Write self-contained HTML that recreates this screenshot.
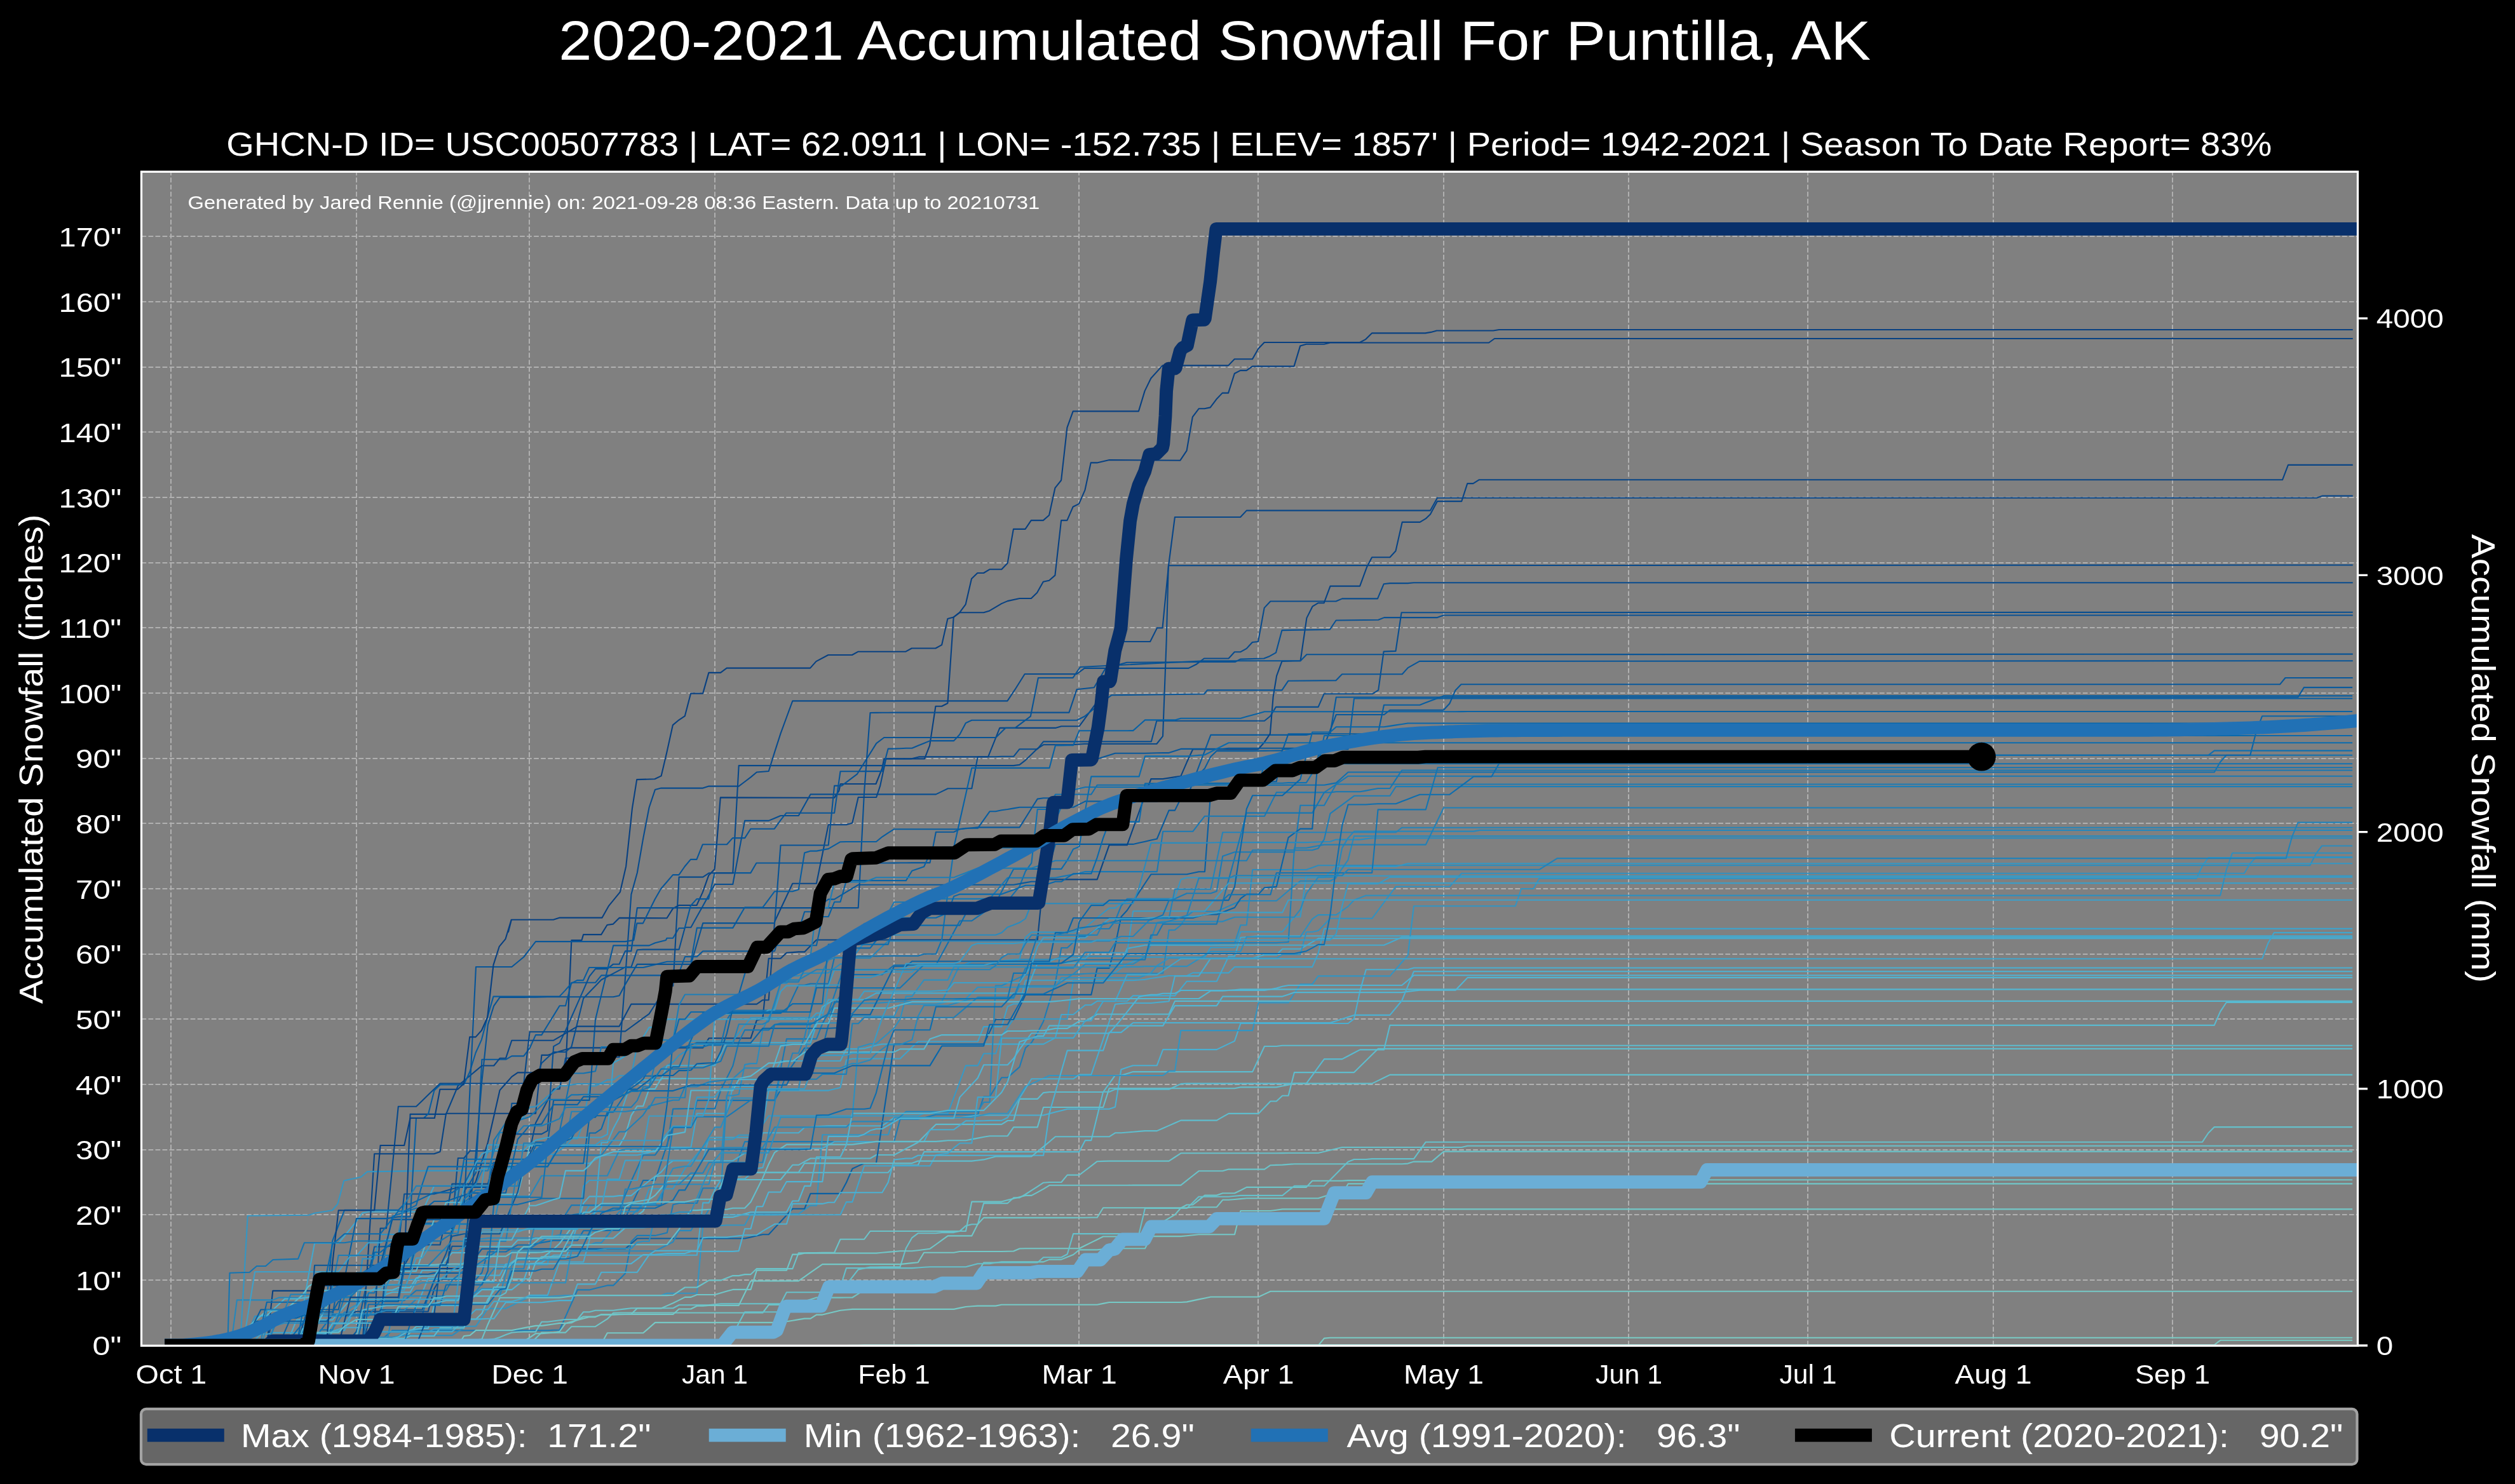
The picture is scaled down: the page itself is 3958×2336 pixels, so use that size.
<!DOCTYPE html>
<html><head><meta charset="utf-8"><title>2020-2021 Accumulated Snowfall For Puntilla, AK</title>
<style>
html,body{margin:0;padding:0;background:#000;}
body{width:3958px;height:2336px;overflow:hidden;}
svg{display:block;will-change:transform;}
text{font-family:"Liberation Sans",sans-serif;fill:#fff;white-space:pre;}
.g{stroke:#b0b0b0;stroke-width:2;stroke-dasharray:7.7 3.33;fill:none;}
.t{fill:none;stroke-width:2.1;stroke-linejoin:round;stroke-linecap:square;}
.k{fill:none;stroke-width:20.8;stroke-linejoin:round;stroke-linecap:square;}
</style></head><body>
<svg width="3958" height="2336" viewBox="0 0 3958 2336">
<rect width="3958" height="2336" fill="#000"/>
<defs><clipPath id="ax"><rect x="222.5" y="270.3" width="3488.0" height="1848.0000000000002"/></clipPath></defs>
<rect x="222.5" y="270.3" width="3488.0" height="1848.0000000000002" fill="#808080"/>
<path class="g" d="M269 2118.3V270.3M561 2118.3V270.3M833 2118.3V270.3M1125 2118.3V270.3M1407 2118.3V270.3M1698 2118.3V270.3M1980 2118.3V270.3M2272 2118.3V270.3M2563 2118.3V270.3M2845 2118.3V270.3M3137 2118.3V270.3M3419 2118.3V270.3M222.5 2015H3710.5M222.5 1912H3710.5M222.5 1810H3710.5M222.5 1707H3710.5M222.5 1604H3710.5M222.5 1502H3710.5M222.5 1399H3710.5M222.5 1296H3710.5M222.5 1194H3710.5M222.5 1091H3710.5M222.5 988H3710.5M222.5 886H3710.5M222.5 783H3710.5M222.5 680H3710.5M222.5 578H3710.5M222.5 475H3710.5M222.5 372H3710.5"/>
<g clip-path="url(#ax)">
<path class="t" stroke="#1070b0" d="M269.5 2118.0L485.7 2118.0L495.1 2106.3L504.5 2094.6L513.9 2082.1L523.3 2069.6L664.4 2069.6L673.8 2041.7L683.2 2013.8L749.0 2013.8L758.4 2003.2L767.8 1970.5L796.0 1970.5L805.4 1965.1L814.8 1959.7L833.6 1959.7L843.0 1957.9L852.4 1956.1L861.8 1954.4L871.2 1952.6L908.8 1952.6L918.2 1937.3L946.4 1937.3L955.8 1937.0L965.2 1936.8L974.6 1936.6L984.0 1917.6L993.4 1897.7L1002.8 1877.9L1012.2 1858.0L1031.0 1858.0L1040.4 1829.8L1049.8 1801.5L1059.2 1773.2L1087.4 1773.2L1096.8 1732.1L1219.1 1732.1L1228.5 1715.6L1237.9 1690.0L1247.3 1676.6L1256.7 1663.2L1266.1 1649.7L1294.3 1649.7L1303.7 1613.4L1313.1 1577.1L1322.5 1577.1L1331.9 1534.1L1388.3 1534.1L1397.7 1526.7L1407.1 1519.2L1472.9 1519.2L1482.3 1501.8L1491.7 1484.4L1501.1 1466.9L1510.5 1449.5L1529.3 1449.5L1538.7 1442.9L1548.1 1436.3L1557.5 1429.9L1576.3 1429.9L1585.7 1418.4L1595.1 1406.9L1604.5 1395.4L1613.9 1371.3L1623.3 1358.7L1632.7 1274.0L1651.5 1274.0L1660.9 1250.5L1717.3 1250.5L1726.7 1235.8L2084.0 1235.8L2093.4 1234.1L2102.8 1232.4L2112.2 1224.0L2121.6 1215.5L3484.8 1215.5L3494.2 1199.5L3503.7 1188.8L3701.1 1188.8"/>
<path class="t" stroke="#084b8d" d="M269.5 2118.0L391.7 2118.0L419.9 2118.0L429.3 2071.5L542.1 2071.5L551.5 2068.0L560.9 2064.5L673.8 2064.5L683.2 2029.0L692.6 2012.9L702.0 2012.9L711.4 1931.9L720.8 1823.0L730.2 1823.0L739.6 1811.6L833.6 1811.6L843.0 1767.7L852.4 1749.9L861.8 1732.0L871.2 1714.2L880.6 1714.2L890.0 1665.6L946.4 1665.6L955.8 1664.8L965.2 1664.0L974.6 1664.0L984.0 1538.8L993.4 1407.9L1002.8 1374.0L1012.2 1319.6L1021.6 1271.0L1031.0 1242.9L1040.4 1240.6L1106.2 1240.6L1115.6 1237.6L1162.7 1237.6L1172.1 1230.5L1181.5 1223.4L1190.9 1215.5L1200.3 1214.7L1209.7 1214.0L1219.1 1183.9L1228.5 1154.6L1237.9 1129.0L1247.3 1103.4L1585.4 1103.4L1597.5 1085.2L1612.7 1061.0L1694.6 1061.0L1706.7 1051.9L1870.5 1051.9L1882.6 1045.8L1895.0 1036.5L1900.0 1036.5L1933.5 1036.5L1942.9 1026.3L1952.0 1026.3L1961.8 1020.9L1970.9 1011.0L1980.0 1010.0L1989.7 956.9L1999.4 946.5L2102.5 946.5L2112.2 942.4L2168.0 942.4L2177.7 919.3L2187.4 918.1L2215.3 918.1L2225.0 917.2L3701.7 917.2"/>
<path class="t" stroke="#1b7bb6" d="M269.5 2118.0L589.2 2118.0L598.6 2110.1L608.0 2102.3L617.4 2094.4L861.8 2094.4L871.2 2093.7L880.6 2093.7L890.0 2072.6L899.4 2051.5L908.8 2030.4L927.6 2030.4L937.0 2028.0L946.4 2025.7L955.8 2023.4L965.2 2023.4L974.6 2013.9L984.0 2004.4L993.4 1954.4L1002.8 1944.9L1031.0 1944.9L1040.4 1942.8L1049.8 1940.6L1059.2 1896.2L1068.6 1894.0L1096.8 1894.0L1106.2 1870.3L1134.4 1870.3L1143.8 1865.2L1153.3 1865.1L1162.7 1822.1L1172.1 1797.1L1407.1 1797.1L1416.5 1761.7L1444.7 1761.7L1454.1 1759.4L1463.5 1757.1L1472.9 1754.8L1538.7 1754.8L1548.1 1726.2L1557.5 1726.2L1566.9 1711.2L1576.3 1696.2L1585.7 1696.2L1595.1 1687.9L1604.5 1679.6L1613.9 1649.5L1623.3 1641.2L1632.7 1625.8L1642.1 1607.8L1651.5 1577.2L1660.9 1546.6L1670.3 1492.0L1679.7 1492.0L1689.1 1483.1L1698.5 1474.1L1707.9 1474.1L1717.3 1468.1L1726.7 1462.0L1745.6 1462.0L1755.0 1449.6L1764.4 1426.0L1773.8 1414.8L1849.0 1414.8L1858.4 1410.5L1867.8 1406.2L1905.4 1406.2L1914.8 1402.9L1924.2 1347.8L1933.6 1344.5L1943.0 1341.2L2037.0 1341.2L2046.4 1267.7L2084.0 1267.7L2093.4 1251.1L2102.8 1234.5L3701.1 1234.5"/>
<path class="t" stroke="#084182" d="M269.5 2118.0L391.7 2118.0L419.9 2118.0L429.3 2031.9L495.1 2031.9L504.5 2019.2L551.5 2019.2L560.9 2011.8L570.4 2004.4L579.8 1997.0L730.2 1997.0L739.6 1876.5L749.0 1859.4L758.4 1828.9L767.8 1798.3L777.2 1757.2L786.6 1716.1L796.0 1705.5L805.4 1694.9L814.8 1688.4L890.0 1688.4L899.4 1480.0L915.5 1480.0L918.1 1471.1L946.2 1471.1L955.5 1456.0L965.0 1454.6L974.5 1444.9L1049.5 1445.3L1059.0 1430.1L1068.5 1425.0L1096.4 1425.0L1105.9 1404.4L1115.2 1378.1L1124.7 1368.0L1133.8 1255.4L1313.0 1255.8L1320.3 1244.9L1322.7 1234.0L1378.5 1234.0L1388.2 1209.7L1391.3 1194.4L1455.0 1194.4L1463.1 1173.7L1472.4 1111.8L1482.1 1111.8L1491.4 1107.0L1500.7 971.5L1510.0 964.3L1548.0 964.3L1557.3 961.4L1576.3 950.1L1585.6 946.1L1604.6 942.0L1622.8 942.0L1632.1 933.1L1641.8 915.7L1651.1 913.7L1660.4 905.6L1670.1 819.1L1679.4 819.1L1688.7 797.7L1698.0 793.1L1707.5 771.3L1716.7 728.4L1726.4 728.4L1745.8 724.0L1857.4 724.7L1867.6 709.4L1876.8 656.4L1886.6 643.3L1895.5 643.3L1904.7 641.4L1914.5 628.3L1923.7 618.6L1933.1 618.6L1942.8 588.0L1952.1 583.1L1961.8 583.1L1971.0 576.6L2036.5 576.6L2046.2 544.6L2055.7 541.7L2083.8 541.7L2093.3 539.5L2343.0 539.5L2352.0 533.0L3701.7 533.0"/>
<path class="t" stroke="#4aafd1" d="M269.5 2118.0L448.1 2118.0L457.5 2100.2L466.9 2077.6L523.3 2077.6L532.7 2066.9L542.1 2056.3L551.5 2045.6L598.6 2045.6L608.0 2037.3L617.4 2034.2L645.6 2034.2L655.0 2016.9L664.4 1999.7L720.8 1999.7L730.2 1993.7L796.0 1993.7L805.4 1987.0L814.8 1980.3L890.0 1980.3L899.4 1958.7L908.8 1926.4L918.2 1894.1L927.6 1883.4L965.2 1883.4L974.6 1882.1L993.4 1882.1L1002.8 1874.3L1012.2 1866.5L1021.6 1858.8L1031.0 1851.9L1040.4 1845.1L1049.8 1834.0L1059.2 1827.2L1153.3 1827.2L1162.7 1821.2L1172.1 1815.2L1190.9 1815.2L1200.3 1783.3L1256.7 1783.3L1266.1 1774.7L1275.5 1774.1L1284.9 1773.4L1294.3 1772.8L1303.7 1772.2L1388.3 1772.2L1397.7 1765.8L1407.1 1759.4L1510.5 1759.4L1519.9 1758.1L1529.3 1756.8L1538.7 1755.5L1642.1 1755.5L1651.5 1753.1L1660.9 1750.6L1670.3 1748.2L1679.7 1745.8L1745.6 1745.8L1755.0 1742.6L1764.4 1683.5L1773.8 1680.3L1783.2 1677.2L1820.8 1677.2L1830.2 1652.1L1914.8 1652.1L1924.2 1647.6L1933.6 1643.1L1943.0 1638.7L1952.4 1611.0L2121.6 1611.0L2131.0 1603.7L2140.4 1559.6L2149.8 1526.3L2215.6 1526.3L2225.0 1523.5L3701.1 1523.5"/>
<path class="t" stroke="#3fa2ca" d="M269.5 2118.0L391.7 2118.0L401.1 2109.1L410.5 2100.2L419.9 2100.2L429.3 2097.9L504.5 2097.9L513.9 2097.0L523.3 2096.0L532.7 2095.1L542.1 2094.2L551.5 2074.3L560.9 2054.5L570.4 2045.3L579.8 2036.1L589.2 2028.2L598.6 2028.2L608.0 2022.1L626.8 2022.1L636.2 1993.0L720.8 1993.0L730.2 1987.6L739.6 1982.2L767.8 1982.2L777.2 1975.5L786.6 1951.5L796.0 1927.5L908.8 1927.5L918.2 1921.1L927.6 1914.7L937.0 1908.3L946.4 1901.9L955.8 1856.2L974.6 1856.2L984.0 1826.6L1106.2 1826.6L1115.6 1790.5L1181.5 1790.5L1190.9 1780.4L1200.3 1770.3L1209.7 1716.6L1303.7 1716.6L1313.1 1714.3L1322.5 1711.9L1331.9 1668.8L1341.3 1666.5L1416.5 1666.5L1425.9 1657.5L1435.3 1648.5L1444.7 1639.5L1538.7 1639.5L1548.1 1616.1L1576.3 1616.1L1585.7 1584.4L1595.1 1580.2L1604.5 1580.2L1613.9 1543.3L1698.5 1543.3L1707.9 1543.2L1717.3 1543.1L1783.2 1543.1L1792.6 1542.5L1802.0 1541.9L1811.4 1540.0L1820.8 1538.7L1830.2 1537.4L1839.6 1536.0L1867.8 1536.0L1877.2 1531.4L1933.6 1531.4L1943.0 1522.1L2065.2 1522.1L2074.6 1500.5L2084.0 1461.9L3701.1 1461.9"/>
<path class="t" stroke="#3699c5" d="M269.5 2118.0L457.5 2118.0L466.9 2104.6L476.3 2091.2L485.7 2077.8L495.1 2064.4L504.5 2064.4L513.9 2052.7L523.3 2026.0L532.7 2014.3L692.6 2014.3L702.0 2006.6L711.4 1999.0L720.8 1993.8L730.2 1992.8L739.6 1991.7L749.0 1990.7L861.8 1990.7L871.2 1928.9L908.8 1928.9L918.2 1913.2L927.6 1897.4L1012.2 1897.4L1021.6 1871.2L1059.2 1871.2L1068.6 1855.3L1078.0 1839.4L1087.4 1828.1L1096.8 1816.8L1106.2 1805.5L1115.6 1794.2L1134.4 1794.2L1143.8 1793.8L1153.3 1793.3L1162.7 1786.8L1172.1 1786.7L1181.5 1786.6L1190.9 1778.4L1200.3 1770.2L1209.7 1756.5L1444.7 1756.5L1454.1 1752.7L1491.7 1752.7L1501.1 1727.6L1510.5 1702.5L1519.9 1677.4L1538.7 1677.4L1548.1 1658.5L1566.9 1658.5L1576.3 1630.9L1585.7 1617.4L1595.1 1604.0L1679.7 1604.0L1689.1 1543.7L1736.1 1543.7L1745.6 1537.1L1755.0 1530.5L1764.4 1524.0L1773.8 1517.4L1783.2 1513.8L1792.6 1510.2L1802.0 1506.6L1896.0 1506.6L1905.4 1491.4L1943.0 1491.4L1952.4 1466.7L2018.2 1466.7L2027.6 1455.0L2037.0 1443.3L2046.4 1443.3L2055.8 1378.8L3701.1 1378.8"/>
<path class="t" stroke="#5dbbce" d="M269.5 2118.0L419.9 2118.0L429.3 2106.7L636.2 2106.7L645.6 2097.3L655.0 2088.0L711.4 2088.0L720.8 2082.3L730.2 2076.5L749.0 2076.5L758.4 2067.5L767.8 2045.1L777.2 2031.9L786.6 2018.6L796.0 1998.3L805.4 1989.1L814.8 1981.1L852.4 1981.1L861.8 1973.7L871.2 1966.2L880.6 1957.5L890.0 1945.0L899.4 1932.5L927.6 1932.5L937.0 1922.9L946.4 1913.3L1002.8 1913.3L1012.2 1906.3L1021.6 1888.1L1031.0 1881.7L1040.4 1870.8L1049.8 1860.0L1059.2 1859.1L1068.6 1858.2L1143.8 1858.2L1153.3 1857.0L1228.5 1857.0L1237.9 1845.4L1247.3 1833.8L1256.7 1833.8L1266.1 1828.7L1275.5 1823.5L1369.5 1823.5L1378.9 1818.0L1407.1 1818.0L1416.5 1813.1L1425.9 1808.1L1435.3 1803.2L1444.7 1798.3L1454.1 1788.8L1463.5 1779.3L1472.9 1769.9L1576.3 1769.9L1585.7 1764.0L1595.1 1764.0L1604.5 1729.9L1632.7 1729.9L1642.1 1720.1L1651.5 1719.0L1736.1 1719.0L1745.6 1705.9L1755.0 1692.7L1764.4 1692.7L1773.8 1689.9L1783.2 1687.1L1971.2 1687.1L1980.6 1667.0L1990.0 1647.0L2008.8 1647.0L2018.2 1645.7L3701.1 1645.7"/>
<path class="t" stroke="#6ec5c8" d="M269.5 2118.0L814.8 2118.0L824.2 2116.9L833.6 2115.7L843.0 2106.7L852.4 2097.6L890.0 2097.6L899.4 2088.2L937.0 2088.2L946.4 2082.2L955.8 2076.2L965.2 2066.7L974.6 2066.5L1200.3 2066.5L1209.7 2054.0L1247.3 2054.0L1256.7 2051.1L1266.1 2048.3L1275.5 2045.5L1284.9 2042.6L1322.5 2042.6L1331.9 2042.5L1341.3 2042.5L1350.7 2036.7L1360.1 2030.8L1378.9 2030.8L1388.3 2027.7L1501.1 2027.7L1510.5 2022.8L1519.9 2022.8L1529.3 2020.8L1538.7 2003.1L1548.1 1987.5L1566.9 1987.5L1576.3 1986.4L1642.1 1986.4L1651.5 1982.6L1670.3 1982.6L1679.7 1978.8L1689.1 1975.0L1698.5 1967.4L1726.7 1967.4L1736.1 1966.3L1745.6 1965.3L1802.0 1965.3L1811.4 1947.1L1820.8 1928.8L1830.2 1923.2L1839.6 1917.7L1849.0 1912.1L1858.4 1901.5L1867.8 1896.5L1877.2 1896.5L1886.6 1889.1L1896.0 1881.6L1914.8 1881.6L1924.2 1878.3L1943.0 1878.3L1952.4 1873.8L1961.8 1868.9L2055.8 1868.9L2065.2 1858.8L2112.2 1858.8L2121.6 1858.1L2178.0 1858.1L2187.4 1857.2L3701.1 1857.2"/>
<path class="t" stroke="#43a7cd" d="M269.5 2118.0L466.9 2118.0L476.3 2062.4L485.7 2006.8L495.1 1957.0L532.7 1957.0L542.1 1945.5L551.5 1934.1L560.9 1922.7L570.4 1909.4L579.8 1907.5L664.4 1907.5L673.8 1887.2L683.2 1866.9L786.6 1866.9L796.0 1849.1L805.4 1831.2L927.6 1831.2L937.0 1825.4L946.4 1819.7L955.8 1818.3L1002.8 1818.3L1012.2 1816.4L1021.6 1814.4L1031.0 1810.3L1040.4 1806.1L1087.4 1806.1L1096.8 1752.8L1143.8 1752.8L1153.3 1709.7L1209.7 1709.7L1219.1 1689.9L1228.5 1670.0L1322.5 1670.0L1331.9 1651.1L1350.7 1651.1L1360.1 1650.4L1369.5 1647.9L1378.9 1645.4L1388.3 1643.6L1642.1 1643.6L1651.5 1638.6L1660.9 1633.6L1670.3 1597.0L1689.1 1597.0L1698.5 1589.5L1707.9 1582.0L1717.3 1582.0L1726.7 1575.9L1736.1 1575.8L1745.6 1575.8L1755.0 1575.8L1773.8 1575.8L1783.2 1567.4L1849.0 1567.4L1858.4 1556.1L1867.8 1544.7L1914.8 1544.7L1924.2 1525.1L1933.6 1505.4L1943.0 1505.4L1952.4 1475.9L1961.8 1475.0L1971.2 1474.1L1980.6 1473.2L3701.1 1473.2"/>
<path class="t" stroke="#085a9d" d="M269.5 2118.0L410.5 2118.0L419.9 2107.1L551.5 2107.1L560.9 2096.0L570.4 2051.5L579.8 2007.0L589.2 1962.5L598.6 1962.5L608.0 1962.1L617.4 1961.6L626.8 1961.2L636.2 1960.8L655.0 1960.8L664.4 1925.6L692.6 1925.6L702.0 1917.3L711.4 1909.0L720.8 1892.3L730.2 1875.6L739.6 1862.1L749.0 1845.8L758.4 1667.8L796.0 1667.8L805.4 1662.4L824.2 1662.4L833.6 1650.0L843.0 1629.1L852.4 1629.1L861.8 1613.8L871.2 1598.6L880.6 1583.3L890.0 1583.3L899.4 1546.8L937.0 1546.8L946.4 1535.4L1040.4 1535.4L1049.8 1531.5L1068.6 1531.5L1078.0 1506.0L1096.8 1506.0L1106.2 1497.2L1219.1 1497.2L1228.5 1465.6L1256.7 1465.6L1266.1 1435.3L1275.5 1435.3L1284.9 1428.8L1294.3 1422.2L1303.7 1415.6L1313.1 1415.6L1322.5 1409.9L1331.9 1404.2L1341.3 1398.5L1350.7 1392.8L1595.1 1392.8L1604.5 1391.1L1613.9 1389.4L1623.3 1387.7L1632.7 1387.7L1642.1 1374.7L1651.5 1361.6L1660.9 1328.9L1783.2 1328.9L1792.6 1326.8L1802.0 1324.7L1811.4 1322.6L1820.8 1320.5L1830.2 1298.1L1839.6 1275.6L1849.0 1275.6L1858.4 1256.6L1867.8 1256.6L1877.2 1231.7L1886.6 1206.7L1896.0 1181.8L1905.4 1156.9L2055.8 1156.9L2065.2 1155.0L2093.4 1155.0L2102.8 1097.5L3616.5 1097.5L3625.9 1082.1L3701.1 1082.1"/>
<path class="t" stroke="#3294c2" d="M269.5 2118.0L608.0 2118.0L617.4 2110.6L626.8 2103.1L636.2 2095.7L645.6 2095.7L655.0 2093.0L664.4 2090.4L673.8 2087.7L749.0 2087.7L758.4 2073.7L767.8 2059.7L796.0 2059.7L805.4 2055.1L814.8 2050.4L824.2 2045.8L833.6 2041.1L861.8 2041.1L871.2 2040.4L880.6 2039.7L890.0 2039.1L1040.4 2039.1L1049.8 2035.8L1096.8 2035.8L1106.2 1930.5L1115.6 1930.5L1125.0 1929.9L1134.4 1929.2L1143.8 1928.5L1172.1 1928.5L1181.5 1910.8L1256.7 1910.8L1266.1 1904.2L1275.5 1897.7L1284.9 1897.7L1294.3 1786.2L1397.7 1786.2L1407.1 1759.0L1529.3 1759.0L1538.7 1756.9L1548.1 1754.8L1557.5 1752.7L1585.7 1752.7L1595.1 1738.6L1604.5 1724.5L1613.9 1710.4L1623.3 1706.1L1632.7 1701.7L1642.1 1697.4L1651.5 1693.0L1830.2 1693.0L1839.6 1685.9L1849.0 1685.9L1858.4 1622.1L1971.2 1622.1L1980.6 1578.4L2027.6 1578.4L2037.0 1563.8L2046.4 1549.2L2065.2 1549.2L2074.6 1536.4L2187.4 1536.4L2196.8 1525.6L2206.2 1514.8L2215.6 1504.0L2225.0 1426.2L2384.9 1426.2L2394.3 1399.0L2413.1 1399.0L2422.5 1382.9L3456.6 1382.9L3466.0 1363.2L3475.4 1350.0L3701.1 1350.0"/>
<path class="t" stroke="#085fa3" d="M269.5 2118.0L391.7 2118.0L401.1 2079.8L513.9 2079.8L523.3 2070.0L532.7 2015.6L542.1 2005.7L673.8 2005.7L683.2 2003.9L730.2 2003.9L739.6 1991.2L749.0 1978.6L758.4 1965.9L984.0 1965.9L993.4 1957.7L1002.8 1949.5L1172.1 1949.5L1181.5 1947.4L1190.9 1945.3L1200.3 1943.2L1209.7 1943.2L1219.1 1933.1L1228.5 1923.0L1237.9 1912.9L1247.3 1902.8L1266.1 1902.8L1275.5 1878.9L1322.5 1878.9L1331.9 1861.6L1341.3 1839.8L1350.7 1835.4L1360.1 1831.1L1378.9 1831.1L1388.3 1768.5L1397.7 1706.0L1407.1 1643.5L1548.1 1643.5L1557.5 1624.1L1566.9 1604.8L1595.1 1604.8L1604.5 1585.3L1613.9 1565.9L1717.3 1565.9L1726.7 1524.0L1745.6 1524.0L1755.0 1488.7L1764.4 1443.2L1773.8 1433.0L1783.2 1418.8L1792.6 1404.7L1802.0 1390.5L1811.4 1376.3L1867.8 1376.3L1877.2 1374.3L1886.6 1372.2L1896.0 1372.2L1905.4 1246.6L1914.8 1246.6L1924.2 1244.7L1933.6 1242.8L1943.0 1240.9L1952.4 1238.2L1961.8 1235.6L1971.2 1232.9L1980.6 1230.3L2008.8 1230.3L2018.2 1179.4L2121.6 1179.4L2131.0 1099.5L3701.1 1099.5"/>
<path class="t" stroke="#2687bb" d="M269.5 2118.0L363.5 2118.0L372.9 2046.4L429.3 2046.4L438.7 2042.6L551.5 2042.6L560.9 2003.4L570.4 2003.4L579.8 1998.1L589.2 1992.8L645.6 1992.8L655.0 1927.3L777.2 1927.3L786.6 1883.1L833.6 1883.1L843.0 1866.9L852.4 1850.7L955.8 1850.7L965.2 1830.8L974.6 1811.0L984.0 1808.9L1049.8 1808.9L1059.2 1808.7L1068.6 1808.4L1078.0 1808.1L1087.4 1807.9L1115.6 1807.9L1125.0 1807.2L1134.4 1806.6L1200.3 1806.6L1209.7 1790.5L1219.1 1774.4L1266.1 1774.4L1275.5 1774.3L1284.9 1774.2L1294.3 1774.2L1331.9 1774.2L1341.3 1765.4L1407.1 1765.4L1416.5 1758.0L1425.9 1749.9L1538.7 1749.9L1548.1 1735.0L1557.5 1735.0L1566.9 1551.5L1576.3 1551.5L1585.7 1547.3L1595.1 1543.0L1604.5 1538.7L1613.9 1534.5L1679.7 1534.5L1689.1 1533.9L1698.5 1533.4L1707.9 1532.8L1717.3 1532.3L1820.8 1532.3L1830.2 1532.1L1839.6 1464.1L1849.0 1463.9L1858.4 1456.2L1867.8 1442.2L1877.2 1434.8L1914.8 1434.8L1924.2 1430.6L1933.6 1426.4L1943.0 1422.2L1952.4 1418.0L2008.8 1418.0L2018.2 1410.2L2027.6 1402.3L2037.0 1394.5L2046.4 1386.7L2093.4 1386.7L2102.8 1381.7L2112.2 1334.6L2121.6 1319.1L2131.0 1308.6L2319.0 1308.6L2328.5 1306.9L3701.1 1306.9"/>
<path class="t" stroke="#48accf" d="M269.5 2118.0L495.1 2118.0L504.5 2116.5L513.9 2112.1L523.3 2095.6L532.7 2092.6L542.1 2089.7L598.6 2089.7L608.0 2081.3L645.6 2081.3L655.0 2058.3L664.4 2035.3L673.8 2012.3L739.6 2012.3L749.0 2007.6L786.6 2007.6L796.0 1989.7L805.4 1989.7L814.8 1989.6L824.2 1989.5L833.6 1989.5L843.0 1988.5L852.4 1987.6L861.8 1981.3L871.2 1975.8L1096.8 1975.8L1106.2 1893.4L1115.6 1893.4L1125.0 1872.9L1134.4 1857.4L1143.8 1856.6L1153.3 1855.7L1172.1 1855.7L1181.5 1847.5L1190.9 1839.3L1200.3 1838.0L1209.7 1807.7L1294.3 1807.7L1303.7 1802.4L1313.1 1797.2L1454.1 1797.2L1463.5 1778.2L1501.1 1778.2L1510.5 1771.3L1519.9 1764.4L1538.7 1764.4L1548.1 1764.2L1557.5 1763.9L1576.3 1763.9L1585.7 1759.2L1595.1 1744.0L1604.5 1728.7L1613.9 1713.5L1623.3 1698.3L1689.1 1698.3L1698.5 1691.6L1717.3 1691.6L1726.7 1663.9L1736.1 1636.2L1745.6 1608.5L1755.0 1580.8L1764.4 1579.9L1773.8 1579.0L1811.4 1579.0L1820.8 1578.0L1830.2 1577.1L1839.6 1576.2L1849.0 1536.4L1886.6 1536.4L1896.0 1522.3L1905.4 1508.3L1971.2 1508.3L1980.6 1505.6L1990.0 1503.0L2008.8 1503.0L2018.2 1493.8L2046.4 1493.8L2055.8 1488.3L2065.2 1482.8L2074.6 1477.3L3701.1 1477.3"/>
<path class="t" stroke="#2b8cbe" d="M269.5 2118.0L495.1 2118.0L504.5 2115.3L513.9 2112.6L523.3 2109.9L560.9 2109.9L570.4 2104.8L617.4 2104.8L626.8 2103.5L636.2 2102.1L711.4 2102.1L720.8 2095.9L730.2 2089.7L739.6 2034.5L749.0 2034.5L758.4 2028.5L796.0 2028.5L805.4 1992.1L814.8 1983.1L880.6 1983.1L890.0 1959.8L927.6 1959.8L937.0 1956.4L946.4 1956.4L955.8 1945.3L965.2 1934.2L974.6 1923.1L984.0 1918.7L993.4 1914.3L1002.8 1904.2L1012.2 1894.1L1031.0 1894.1L1040.4 1885.1L1049.8 1856.8L1059.2 1839.2L1068.6 1837.4L1078.0 1835.7L1087.4 1835.7L1096.8 1820.3L1106.2 1805.0L1115.6 1789.7L1125.0 1774.4L1134.4 1774.4L1143.8 1751.5L1153.3 1728.5L1190.9 1728.5L1200.3 1721.8L1209.7 1715.2L1256.7 1715.2L1266.1 1662.7L1275.5 1610.3L1322.5 1610.3L1331.9 1594.7L1341.3 1579.1L1378.9 1579.1L1388.3 1578.4L1397.7 1577.8L1407.1 1577.2L1416.5 1576.5L1482.3 1576.5L1491.7 1557.4L1501.1 1538.2L1510.5 1519.0L1557.5 1519.0L1566.9 1513.2L1576.3 1513.2L1585.7 1512.3L1595.1 1511.3L1604.5 1510.4L1660.9 1510.4L1670.3 1505.4L1802.0 1505.4L1811.4 1485.7L1905.4 1485.7L1914.8 1485.2L1924.2 1484.8L1943.0 1484.8L1952.4 1456.2L1961.8 1456.2L1971.2 1369.0L1980.6 1369.0L1990.0 1369.0L2055.8 1369.0L2065.2 1365.7L2074.6 1362.3L3635.3 1362.3L3644.7 1343.9L3654.1 1331.5L3701.1 1331.5"/>
<path class="t" stroke="#1979b5" d="M269.5 2118.0L419.9 2118.0L429.3 2094.7L438.7 2071.5L579.8 2071.5L589.2 2059.4L598.6 2047.3L636.2 2047.3L645.6 2039.4L655.0 2031.4L702.0 2031.4L711.4 2015.4L720.8 2007.6L730.2 1999.7L739.6 1991.8L749.0 1991.8L758.4 1985.4L767.8 1978.9L777.2 1972.4L786.6 1966.0L796.0 1965.5L833.6 1965.5L843.0 1959.7L852.4 1954.0L861.8 1948.3L880.6 1948.3L890.0 1911.6L899.4 1897.1L1040.4 1897.1L1049.8 1836.0L1059.2 1775.0L1087.4 1775.0L1096.8 1757.9L1143.8 1757.9L1153.3 1751.3L1162.7 1744.7L1172.1 1738.1L1181.5 1731.6L1219.1 1731.6L1228.5 1683.5L1237.9 1635.4L1256.7 1635.4L1266.1 1635.4L1275.5 1635.4L1284.9 1635.4L1294.3 1611.4L1303.7 1593.5L1313.1 1566.3L1322.5 1539.1L1331.9 1498.3L1341.3 1484.8L1350.7 1469.3L1360.1 1453.9L1388.3 1453.9L1397.7 1436.9L1407.1 1420.0L1444.7 1420.0L1454.1 1414.9L1557.5 1414.9L1566.9 1403.8L1576.3 1392.8L1585.7 1381.7L1660.9 1381.7L1670.3 1379.9L1679.7 1378.1L1689.1 1376.3L1698.5 1374.5L1707.9 1372.1L1820.8 1372.1L1830.2 1308.8L1877.2 1308.8L1886.6 1296.7L1896.0 1284.7L1990.0 1284.7L1999.4 1266.1L2008.8 1247.4L2084.0 1247.4L2093.4 1241.0L2102.8 1234.6L2112.2 1228.1L2121.6 1221.7L3701.1 1221.7"/>
<path class="t" stroke="#084485" d="M269.5 2118.0L485.7 2118.0L551.5 2118.0L560.9 2117.8L570.4 2117.7L579.8 1967.0L589.2 1816.3L683.2 1816.3L692.6 1812.9L702.0 1752.8L843.0 1752.8L852.4 1660.9L861.8 1660.9L871.2 1658.0L880.6 1655.1L890.0 1652.2L899.4 1649.4L1106.2 1649.4L1115.6 1634.3L1181.5 1634.3L1190.9 1605.9L1200.3 1603.9L1209.7 1508.7L1228.5 1508.7L1237.9 1499.8L1247.3 1499.1L1256.7 1498.4L1266.1 1498.4L1275.5 1488.9L1284.9 1479.5L1632.7 1479.5L1642.1 1384.4L1726.7 1384.4L1736.1 1357.4L1745.6 1330.3L1773.8 1330.3L1783.2 1304.2L1792.6 1278.2L1802.0 1252.1L1811.4 1226.1L1830.2 1226.1L1839.6 1224.6L1849.0 1223.1L1858.4 1221.7L1867.8 1199.8L1877.2 1179.5L1900.0 1179.5L1980.0 1179.5L1989.1 1169.3L1998.9 1154.8L2003.7 1096.5L2009.1 1063.8L2017.5 1040.9L2046.6 1040.2L2056.4 972.9L2065.5 954.7L2074.6 949.2L2083.7 949.2L2093.5 922.6L2140.1 922.6L2151.0 892.8L2159.1 877.2L2187.4 877.2L2196.5 867.3L2206.7 821.9L2234.7 821.9L2243.8 816.4L2251.0 809.5L2262.0 789.1L2300.2 789.1L2309.3 761.1L2318.4 761.1L2327.5 755.3L3592.0 755.3L3601.0 731.9L3701.7 731.9"/>
<path class="t" stroke="#3496c3" d="M269.5 2118.0L363.5 2118.0L378.5 2107.6L389.8 1913.7L486.0 1912.8L496.0 1909.5L522.9 1905.2L531.4 1895.3L541.3 1858.5L568.1 1852.8L578.0 1844.4L672.9 1842.9L749.0 1842.9L758.4 1840.8L767.8 1838.7L824.2 1838.7L833.6 1834.4L843.0 1830.1L852.4 1830.1L861.8 1817.3L871.2 1817.3L880.6 1810.7L890.0 1804.2L899.4 1792.4L908.8 1792.4L918.2 1767.2L927.6 1709.5L937.0 1709.5L946.4 1704.7L955.8 1699.9L965.2 1699.9L974.6 1693.2L993.4 1693.2L1002.8 1645.3L1040.4 1645.3L1049.8 1641.8L1059.2 1638.7L1153.3 1638.7L1162.7 1626.4L1172.1 1614.1L1181.5 1601.8L1294.3 1601.8L1303.7 1550.5L1331.9 1550.5L1341.3 1538.8L1369.5 1538.8L1378.9 1535.8L1388.3 1532.9L1397.7 1530.0L1435.3 1530.0L1444.7 1521.5L1510.5 1521.5L1519.9 1517.5L1529.3 1513.6L1566.9 1513.6L1576.3 1512.6L1585.7 1511.6L1595.1 1510.6L1604.5 1509.7L1613.9 1475.3L1623.3 1467.4L1689.1 1467.4L1698.5 1463.7L1707.9 1460.0L1717.3 1452.3L1726.7 1444.7L1736.1 1437.0L1745.6 1429.4L1755.0 1429.4L1764.4 1421.8L1773.8 1418.8L1783.2 1415.7L1839.6 1415.7L1849.0 1412.7L1858.4 1384.5L1867.8 1381.5L2084.0 1381.5L2093.4 1372.8L2102.8 1364.0L2196.8 1364.0L2206.2 1361.7L2215.6 1359.3L2460.1 1359.3L3701.1 1359.3"/>
<path class="t" stroke="#68c1ca" d="M269.5 2118.0L504.5 2118.0L513.9 2111.0L589.2 2111.0L598.6 2110.8L655.0 2110.8L664.4 2108.8L767.8 2108.8L777.2 2107.9L786.6 2105.0L796.0 2101.0L805.4 2097.8L814.8 2096.7L824.2 2096.4L843.0 2096.4L852.4 2080.8L861.8 2080.8L871.2 2079.5L880.6 2078.2L890.0 2077.0L908.8 2077.0L918.2 2065.2L927.6 2065.2L937.0 2062.7L965.2 2062.7L974.6 2061.5L984.0 2060.4L993.4 2059.2L1059.2 2059.2L1068.6 2054.2L1115.6 2054.2L1125.0 2053.3L1134.4 2052.3L1228.5 2052.3L1237.9 2034.2L1322.5 2034.2L1331.9 2022.3L1341.3 2010.3L1350.7 1998.4L1360.1 1996.4L1369.5 1994.5L1378.9 1994.5L1388.3 1994.4L1416.5 1994.4L1425.9 1964.8L1435.3 1948.3L1444.7 1941.3L1472.9 1941.3L1482.3 1940.1L1501.1 1940.1L1510.5 1937.9L1519.9 1929.6L1529.3 1927.3L1538.7 1927.3L1548.1 1894.1L1585.7 1894.1L1595.1 1885.4L1604.5 1885.4L1613.9 1880.0L1623.3 1873.9L1632.7 1867.8L1642.1 1861.7L1651.5 1861.0L1670.3 1861.0L1679.7 1849.6L1698.5 1849.6L1707.9 1842.5L1717.3 1835.3L1726.7 1828.2L1736.1 1827.9L1745.6 1827.6L1839.6 1827.6L1849.0 1821.5L1858.4 1815.3L2008.8 1815.3L2018.2 1815.1L2027.6 1815.0L2074.6 1815.0L2084.0 1812.7L2093.4 1810.5L2102.8 1808.3L2112.2 1806.0L2300.2 1806.0L2309.6 1803.8L3701.1 1803.8"/>
<path class="t" stroke="#73c8c7" d="M269.5 2118.0L720.8 2118.0L730.2 2103.0L739.6 2102.0L749.0 2094.1L805.4 2094.1L814.8 2092.2L824.2 2090.4L833.6 2088.6L843.0 2086.9L852.4 2086.9L861.8 2085.6L871.2 2084.2L880.6 2082.9L890.0 2082.9L899.4 2080.4L908.8 2078.0L918.2 2075.6L927.6 2073.1L937.0 2073.1L946.4 2069.0L1059.2 2069.0L1068.6 2060.5L1087.4 2060.5L1096.8 2055.8L1106.2 2055.8L1115.6 2054.9L1162.7 2054.9L1172.1 2035.7L1181.5 2016.5L1190.9 2016.4L1256.7 2016.4L1266.1 2009.8L1275.5 2003.2L1284.9 1996.6L1294.3 1990.1L1416.5 1990.1L1425.9 1989.1L1435.3 1988.1L1444.7 1987.2L1454.1 1971.7L1501.1 1971.7L1510.5 1970.0L1576.3 1970.0L1585.7 1969.7L1595.1 1969.5L1604.5 1965.5L1613.9 1965.2L1698.5 1965.2L1707.9 1960.5L1717.3 1955.9L1726.7 1951.2L1736.1 1946.5L1792.6 1946.5L1802.0 1946.1L1858.4 1946.1L1867.8 1945.2L1877.2 1944.2L1886.6 1943.3L1943.0 1943.3L1952.4 1906.0L1999.4 1906.0L2008.8 1904.7L2018.2 1903.4L3701.1 1903.4"/>
<path class="t" stroke="#6bc3c9" d="M269.5 2118.0L655.0 2118.0L664.4 2116.0L673.8 2114.0L683.2 2111.9L692.6 2109.9L749.0 2109.9L758.4 2107.8L767.8 2084.7L777.2 2063.7L786.6 2042.7L880.6 2042.7L890.0 2041.5L899.4 2040.3L908.8 2039.1L1049.8 2039.1L1059.2 2038.8L1068.6 2032.7L1078.0 2026.5L1096.8 2026.5L1106.2 2021.0L1115.6 2015.4L1134.4 2015.4L1143.8 2011.8L1153.3 2008.1L1162.7 2008.1L1172.1 2006.1L1181.5 2006.1L1190.9 1997.1L1247.3 1997.1L1256.7 1972.4L1266.1 1972.2L1275.5 1972.1L1284.9 1972.0L1294.3 1971.8L1313.1 1971.8L1322.5 1950.7L1360.1 1950.7L1369.5 1938.0L1519.9 1938.0L1529.3 1891.6L1576.3 1891.6L1585.7 1889.1L1595.1 1886.7L1604.5 1884.3L1613.9 1881.9L1623.3 1881.9L1632.7 1876.8L1642.1 1871.6L1651.5 1865.8L1773.8 1865.8L1783.2 1865.6L1858.4 1865.6L1867.8 1858.2L1877.2 1850.7L1886.6 1843.3L1924.2 1843.3L1933.6 1840.6L1990.0 1840.6L1999.4 1834.2L2008.8 1833.9L2018.2 1833.6L2027.6 1832.9L2037.0 1832.2L2206.2 1832.2L2215.6 1831.6L2225.0 1828.6L2253.2 1828.6L2262.6 1820.6L2272.0 1812.6L3701.1 1812.6"/>
<path class="t" stroke="#3091c1" d="M269.5 2118.0L382.3 2118.0L391.7 2094.9L401.1 2071.9L542.1 2071.9L551.5 2058.9L560.9 2054.3L570.4 1981.4L589.2 1981.4L598.6 1943.1L636.2 1943.1L645.6 1937.3L655.0 1931.6L664.4 1925.8L673.8 1920.0L702.0 1920.0L711.4 1908.9L720.8 1869.2L730.2 1830.4L758.4 1830.4L767.8 1814.2L777.2 1809.1L786.6 1804.0L796.0 1785.5L805.4 1772.1L814.8 1765.6L824.2 1758.5L833.6 1742.7L843.0 1742.1L852.4 1733.9L861.8 1725.7L871.2 1717.5L880.6 1709.3L890.0 1709.3L899.4 1707.6L908.8 1706.0L955.8 1706.0L965.2 1705.5L1021.6 1705.5L1031.0 1694.1L1040.4 1682.8L1049.8 1677.4L1059.2 1672.0L1068.6 1661.1L1078.0 1655.5L1087.4 1649.9L1096.8 1644.3L1237.9 1644.3L1247.3 1644.2L1256.7 1644.0L1275.5 1644.0L1284.9 1599.8L1407.1 1599.8L1416.5 1580.6L1472.9 1580.6L1482.3 1578.7L1491.7 1576.7L1501.1 1574.8L1510.5 1572.9L1519.9 1572.2L1529.3 1563.1L1538.7 1554.0L1613.9 1554.0L1623.3 1553.8L1660.9 1553.8L1670.3 1539.1L1792.6 1539.1L1802.0 1535.3L1811.4 1531.4L1820.8 1520.2L1830.2 1514.2L1839.6 1508.3L2008.8 1508.3L2018.2 1502.4L2046.4 1502.4L2055.8 1467.0L2065.2 1467.0L2074.6 1464.9L2084.0 1455.4L2093.4 1445.8L2159.2 1445.8L2168.6 1433.2L2178.0 1420.6L2187.4 1408.1L2196.8 1395.5L2281.4 1395.5L2290.8 1385.1L2300.2 1374.7L3531.9 1374.7L3541.3 1359.3L3550.7 1349.0L3701.1 1349.0"/>
<path class="t" stroke="#65c0cb" d="M269.5 2118.0L1143.8 2118.0L1153.3 2100.4L1162.7 2082.8L1172.1 2065.3L1228.5 2065.3L1237.9 2063.7L1275.5 2063.7L1284.9 2049.4L1294.3 2035.0L1303.7 2030.6L1313.1 2026.1L1322.5 2026.1L1331.9 1996.1L1435.3 1996.1L1444.7 1995.5L1454.1 1994.8L1463.5 1994.2L1519.9 1994.2L1529.3 1991.7L1538.7 1989.3L1557.5 1989.3L1566.9 1987.5L1632.7 1987.5L1642.1 1979.3L1670.3 1979.3L1679.7 1974.3L1689.1 1942.1L1792.6 1942.1L1802.0 1902.0L1867.8 1902.0L1877.2 1892.9L1886.6 1883.7L1933.6 1883.7L1943.0 1882.8L1952.4 1881.9L2018.2 1881.9L2027.6 1874.3L2037.0 1866.8L2084.0 1866.8L2093.4 1857.3L2102.8 1847.8L2112.2 1838.3L2121.6 1828.8L2131.0 1825.0L2149.8 1825.0L2159.2 1824.1L2225.0 1824.1L2234.4 1810.9L2243.8 1797.7L3466.0 1797.7L3475.4 1783.5L3484.8 1774.1L3701.1 1774.1"/>
<path class="t" stroke="#46aace" d="M269.5 2118.0L570.4 2118.0L579.8 2096.2L711.4 2096.2L720.8 2087.5L730.2 2078.8L739.6 2070.1L749.0 2061.4L767.8 2061.4L777.2 2048.6L805.4 2048.6L814.8 2046.1L824.2 2043.6L833.6 2038.9L861.8 2038.9L871.2 2012.7L880.6 1986.5L918.2 1986.5L927.6 1952.2L937.0 1901.7L946.4 1798.5L955.8 1798.5L965.2 1776.4L974.6 1759.0L984.0 1731.5L993.4 1703.9L1002.8 1702.6L1012.2 1700.0L1040.4 1700.0L1049.8 1677.3L1125.0 1677.3L1134.4 1659.3L1143.8 1641.3L1275.5 1641.3L1284.9 1613.1L1294.3 1584.9L1303.7 1579.2L1313.1 1573.6L1360.1 1573.6L1369.5 1568.5L1378.9 1563.4L1613.9 1563.4L1623.3 1539.7L1632.7 1516.0L1764.4 1516.0L1773.8 1493.1L1783.2 1491.3L1792.6 1489.6L1802.0 1487.8L2178.0 1487.8L2187.4 1483.7L2196.8 1479.5L2206.2 1475.3L3701.1 1475.3"/>
<path class="t" stroke="#2a8bbe" d="M269.5 2118.0L410.5 2118.0L419.9 2090.7L429.3 2088.0L438.7 2085.3L448.1 2082.6L589.2 2082.6L598.6 2064.1L608.0 2025.0L617.4 2004.3L626.8 2004.3L636.2 1989.8L645.6 1989.8L655.0 1968.5L720.8 1968.5L730.2 1963.1L739.6 1957.7L749.0 1951.1L758.4 1950.0L767.8 1948.9L777.2 1948.7L833.6 1948.7L843.0 1948.6L852.4 1948.4L861.8 1948.2L871.2 1945.9L880.6 1943.7L927.6 1943.7L937.0 1920.9L946.4 1920.9L955.8 1920.1L965.2 1919.2L974.6 1907.2L1002.8 1907.2L1012.2 1896.0L1031.0 1896.0L1040.4 1880.2L1049.8 1864.3L1115.6 1864.3L1125.0 1829.5L1134.4 1829.5L1143.8 1724.6L1153.3 1724.6L1162.7 1722.8L1172.1 1675.9L1181.5 1674.1L1190.9 1674.1L1200.3 1620.9L1209.7 1601.7L1219.1 1582.5L1228.5 1547.8L1237.9 1547.8L1247.3 1536.1L1256.7 1536.1L1266.1 1531.9L1284.9 1531.9L1294.3 1531.6L1303.7 1531.2L1313.1 1524.4L1322.5 1517.5L1331.9 1517.5L1341.3 1507.9L1350.7 1495.9L1360.1 1483.8L1369.5 1471.8L1566.9 1471.8L1576.3 1468.2L1585.7 1459.4L1595.1 1455.9L1604.5 1452.3L1613.9 1446.0L1623.3 1422.2L1783.2 1422.2L1792.6 1397.5L1802.0 1362.2L1811.4 1326.9L1886.6 1326.9L1896.0 1326.7L1905.4 1326.5L1914.8 1326.3L1924.2 1326.1L2055.8 1326.1L2065.2 1325.8L2074.6 1325.4L2084.0 1325.0L2093.4 1324.7L2102.8 1321.6L2140.4 1321.6L2149.8 1320.4L2159.2 1319.2L3701.1 1319.2"/>
<path class="t" stroke="#085093" d="M269.5 2118.0L504.5 2118.0L570.4 2118.0L579.8 2081.9L598.6 2081.9L608.0 1991.8L617.4 1991.8L626.8 1964.0L636.2 1879.5L683.2 1879.5L692.6 1876.9L702.0 1874.2L711.4 1871.6L720.8 1868.9L777.2 1868.9L786.6 1865.0L796.0 1825.1L805.4 1785.1L852.4 1785.1L861.8 1779.9L871.2 1647.1L880.6 1641.9L890.0 1622.4L899.4 1601.0L908.8 1579.6L918.2 1558.3L927.6 1536.9L937.0 1525.1L955.8 1525.1L965.2 1517.7L974.6 1517.7L984.0 1497.1L993.4 1497.1L1002.8 1429.1L1350.7 1429.1L1360.1 1246.3L1369.5 1122.0L1378.9 1121.9L1388.3 1121.8L1397.7 1121.7L1407.1 1121.6L1473.2 1121.6L1682.4 1121.6L1694.6 1085.2L1721.8 1082.2L1740.0 1051.9L1773.4 1042.8L1895.0 1042.0L1900.0 1042.0L1943.7 1042.0L1952.0 1037.6L1989.1 1036.5L1998.2 1032.9L2008.0 1027.4L2017.5 992.1L2092.8 991.0L2102.6 976.5L2169.2 975.8L2178.3 972.1L2262.0 972.1L2271.8 968.5L3701.7 968.5"/>
<path class="t" stroke="#2889bc" d="M269.5 2118.0L608.0 2118.0L617.4 2066.3L626.8 2066.3L636.2 2040.1L786.6 2040.1L796.0 2004.6L805.4 1969.2L1031.0 1969.2L1040.4 1964.5L1049.8 1959.8L1059.2 1955.0L1068.6 1937.1L1087.4 1937.1L1096.8 1920.3L1106.2 1920.3L1115.6 1903.8L1125.0 1903.8L1134.4 1879.1L1143.8 1725.6L1153.3 1698.0L1162.7 1689.6L1172.1 1681.3L1322.5 1681.3L1331.9 1677.6L1341.3 1674.0L1350.7 1674.0L1360.1 1671.2L1369.5 1668.5L1378.9 1658.6L1388.3 1651.5L1397.7 1644.4L1416.5 1644.4L1425.9 1640.7L1435.3 1636.9L1444.7 1600.1L1454.1 1582.8L1491.7 1582.8L1501.1 1580.0L1510.5 1577.3L1519.9 1574.5L1529.3 1571.8L1595.1 1571.8L1604.5 1551.8L1660.9 1551.8L1670.3 1545.6L1679.7 1539.4L1689.1 1533.2L1698.5 1525.5L1707.9 1517.7L1783.2 1517.7L1792.6 1511.9L1802.0 1506.0L1811.4 1479.1L1820.8 1452.3L1830.2 1450.6L1924.2 1450.6L1933.6 1447.1L1943.0 1443.7L2037.0 1443.7L2046.4 1431.7L2055.8 1406.7L2065.2 1393.7L2074.6 1380.7L2102.8 1380.7L2112.2 1367.1L2121.6 1353.6L2131.0 1316.1L3701.1 1316.1"/>
<path class="t" stroke="#70c6c8" d="M269.5 2118.0L814.8 2118.0L824.2 2111.7L833.6 2105.5L843.0 2099.2L852.4 2099.2L861.8 2098.5L871.2 2097.7L880.6 2096.0L890.0 2083.1L899.4 2082.2L908.8 2077.4L918.2 2072.5L937.0 2072.5L946.4 2069.6L965.2 2069.6L974.6 2069.3L984.0 2069.0L993.4 2068.6L1002.8 2059.5L1040.4 2059.5L1049.8 2055.4L1059.2 2051.3L1068.6 2046.6L1078.0 2041.9L1087.4 2041.9L1096.8 2038.0L1125.0 2038.0L1134.4 2035.3L1143.8 2032.6L1153.3 2029.9L1181.5 2029.9L1190.9 1999.6L1237.9 1999.6L1247.3 1974.6L1256.7 1974.6L1266.1 1972.6L1378.9 1972.6L1388.3 1971.8L1397.7 1970.9L1407.1 1970.1L1416.5 1969.2L1435.3 1969.2L1444.7 1968.2L1454.1 1967.0L1463.5 1965.7L1472.9 1959.0L1482.3 1952.2L1491.7 1945.4L1529.3 1945.4L1538.7 1927.0L1548.1 1916.9L1689.1 1916.9L1698.5 1916.8L1707.9 1916.7L1717.3 1916.5L1726.7 1916.5L1736.1 1901.2L1867.8 1901.2L1877.2 1900.2L1914.8 1900.2L1924.2 1888.8L1933.6 1888.8L1943.0 1888.0L1952.4 1887.1L1961.8 1886.3L2074.6 1886.3L2084.0 1883.3L2093.4 1880.3L2112.2 1880.3L2121.6 1863.4L3701.1 1863.4"/>
<path class="t" stroke="#084e90" d="M269.5 2118.0L448.1 2118.0L466.9 2118.0L476.3 2086.6L485.7 2055.2L495.1 2023.8L560.9 2023.8L570.4 2018.5L579.8 2013.3L589.2 2008.1L626.8 2008.1L636.2 1991.9L645.6 1975.7L655.0 1959.5L692.6 1959.5L702.0 1915.5L711.4 1863.6L767.8 1863.6L777.2 1830.1L796.0 1830.1L805.4 1736.9L824.2 1736.9L833.6 1718.7L843.0 1700.5L852.4 1673.5L861.8 1664.8L871.2 1656.0L890.0 1656.0L899.4 1647.7L908.8 1609.6L918.2 1571.5L927.6 1561.8L937.0 1552.0L946.4 1542.3L955.8 1537.3L965.2 1532.4L974.6 1527.4L984.0 1522.4L993.4 1522.4L1002.8 1495.3L1012.2 1494.6L1068.6 1494.6L1078.0 1459.8L1087.4 1459.8L1096.8 1442.8L1106.2 1425.9L1115.6 1408.9L1125.0 1392.0L1153.3 1392.0L1162.7 1341.9L1172.1 1291.9L1209.7 1291.9L1219.1 1288.0L1228.5 1284.0L1256.7 1284.0L1266.1 1267.2L1275.5 1250.4L1472.9 1250.4L1482.3 1245.9L1491.7 1241.3L1529.3 1241.3L1538.7 1191.2L1566.9 1191.2L1576.3 1190.8L1595.1 1190.8L1604.5 1179.2L1632.7 1179.2L1642.1 1167.4L1811.8 1167.4L1820.3 1134.7L1989.9 1134.7L1999.0 1127.5L2008.0 1112.9L2074.6 1112.9L2083.7 1092.2L2160.1 1092.2L2169.2 1086.4L2177.6 1025.6L2196.5 1024.9L2205.6 964.2L3701.7 963.8"/>
<path class="t" stroke="#1677b3" d="M269.5 2118.0L495.1 2118.0L504.5 2093.4L523.3 2093.4L532.7 2070.2L542.1 2041.5L551.5 2041.5L560.9 2032.3L570.4 2023.1L579.8 2013.8L589.2 2004.6L626.8 2004.6L636.2 1992.5L645.6 1950.8L655.0 1938.7L664.4 1926.5L843.0 1926.5L852.4 1924.0L861.8 1921.4L871.2 1918.9L880.6 1918.9L890.0 1912.6L899.4 1912.6L908.8 1911.1L918.2 1909.7L927.6 1908.3L937.0 1906.8L955.8 1906.8L965.2 1905.2L974.6 1903.6L984.0 1881.4L993.4 1859.2L1002.8 1838.7L1012.2 1818.2L1031.0 1818.2L1040.4 1805.0L1049.8 1805.0L1059.2 1745.5L1068.6 1745.4L1078.0 1745.2L1087.4 1745.1L1125.0 1745.1L1134.4 1715.9L1143.8 1696.9L1153.3 1677.9L1162.7 1640.4L1172.1 1621.4L1209.7 1621.4L1219.1 1612.9L1228.5 1610.7L1294.3 1610.7L1303.7 1595.5L1313.1 1580.3L1322.5 1567.7L1331.9 1555.1L1416.5 1555.1L1425.9 1545.9L1435.3 1536.8L1444.7 1527.7L1454.1 1518.5L1510.5 1518.5L1519.9 1518.2L1529.3 1517.9L1660.9 1517.9L1670.3 1516.1L1679.7 1514.3L1689.1 1512.5L1698.5 1510.7L1802.0 1510.7L1811.4 1471.8L1820.8 1471.8L1830.2 1454.6L1914.8 1454.6L1924.2 1419.9L1933.6 1385.1L1943.0 1350.4L1952.4 1315.0L1961.8 1279.6L2065.2 1279.6L2074.6 1263.6L2084.0 1247.5L2093.4 1247.5L2102.8 1246.3L2140.4 1246.3L2149.8 1244.6L2159.2 1242.8L2168.6 1241.0L2187.4 1241.0L2196.8 1226.7L2206.2 1212.5L3701.1 1212.5"/>
<path class="t" stroke="#1272b1" d="M269.5 2118.0L560.9 2118.0L570.4 2076.6L579.8 2035.2L589.2 2035.2L598.6 2007.8L608.0 1961.2L617.4 1914.6L626.8 1911.4L636.2 1908.2L645.6 1905.0L655.0 1901.8L720.8 1901.8L730.2 1893.3L739.6 1884.8L852.4 1884.8L861.8 1804.1L871.2 1804.1L880.6 1781.1L890.0 1735.1L899.4 1689.5L918.2 1689.5L927.6 1687.9L937.0 1686.3L946.4 1648.1L1106.2 1648.1L1115.6 1645.2L1134.4 1645.2L1143.8 1605.4L1153.3 1590.6L1237.9 1590.6L1247.3 1570.6L1256.7 1550.7L1266.1 1550.7L1275.5 1548.5L1303.7 1548.5L1313.1 1507.4L1331.9 1507.4L1341.3 1506.4L1350.7 1505.3L1378.9 1505.3L1388.3 1505.0L1397.7 1504.8L1444.7 1504.8L1454.1 1501.8L1472.9 1501.8L1482.3 1478.8L1491.7 1405.0L1501.1 1338.1L1510.5 1334.5L1632.7 1334.5L1642.1 1324.3L1651.5 1314.2L1660.9 1292.1L1670.3 1269.9L1679.7 1245.6L1689.1 1243.4L1698.5 1241.2L1707.9 1239.0L1849.0 1239.0L1858.4 1237.5L1867.8 1235.9L1877.2 1234.3L1886.6 1232.7L2018.2 1232.7L2027.6 1232.1L2055.8 1232.1L2065.2 1217.1L2074.6 1202.2L3701.1 1202.2"/>
<path class="t" stroke="#7accc4" d="M269.5 2118.0L1331.9 2118.0L1341.3 2117.9L1350.7 2117.7L1360.1 2117.4L1369.5 2117.3L1435.3 2117.3L1444.7 2117.0L3484.8 2117.0L3494.2 2109.8L3701.1 2109.8"/>
<path class="t" stroke="#5abacf" d="M269.5 2118.0L570.4 2118.0L579.8 2112.5L589.2 2107.0L636.2 2107.0L645.6 2103.0L683.2 2103.0L692.6 2090.4L730.2 2090.4L739.6 2050.9L767.8 2050.9L777.2 2026.0L796.0 2026.0L805.4 2013.3L833.6 2013.3L843.0 1987.0L852.4 1978.3L880.6 1978.3L890.0 1960.1L899.4 1942.9L908.8 1925.6L918.2 1908.4L927.6 1908.4L937.0 1901.4L946.4 1894.5L984.0 1894.5L993.4 1892.9L1002.8 1891.3L1012.2 1889.7L1021.6 1888.2L1031.0 1852.0L1040.4 1850.7L1162.7 1850.7L1172.1 1849.1L1181.5 1847.4L1190.9 1845.8L1275.5 1845.8L1284.9 1845.8L1294.3 1845.8L1303.7 1845.8L1313.1 1845.7L1397.7 1845.7L1407.1 1834.4L1444.7 1834.4L1454.1 1813.1L1698.5 1813.1L1707.9 1795.1L1717.3 1795.1L1726.7 1757.0L1736.1 1718.8L1745.6 1718.8L1755.0 1714.8L1839.6 1714.8L1849.0 1710.5L1858.4 1706.1L1867.8 1705.6L2055.8 1705.6L2065.2 1692.8L2074.6 1679.9L2084.0 1667.1L2112.2 1667.1L2121.6 1662.2L2131.0 1657.3L2140.4 1652.4L2178.0 1652.4L2187.4 1613.9L3484.8 1613.9L3494.2 1592.3L3503.7 1578.0L3701.1 1578.0"/>
<path class="t" stroke="#57b8d0" d="M269.5 2118.0L466.9 2118.0L476.3 2091.7L495.1 2091.7L504.5 2074.7L513.9 2057.6L523.3 2040.6L542.1 2040.6L551.5 2030.7L560.9 2020.8L570.4 2010.9L579.8 2001.0L655.0 2001.0L664.4 1973.9L673.8 1946.7L683.2 1919.5L692.6 1919.5L702.0 1892.7L767.8 1892.7L777.2 1879.9L814.8 1879.9L824.2 1843.0L833.6 1803.7L974.6 1803.7L984.0 1787.2L993.4 1755.9L1002.8 1741.2L1012.2 1741.2L1021.6 1714.1L1031.0 1714.1L1040.4 1697.7L1162.7 1697.7L1172.1 1695.8L1181.5 1693.9L1190.9 1687.1L1200.3 1680.3L1209.7 1673.4L1219.1 1673.4L1228.5 1672.0L1237.9 1670.5L1247.3 1670.5L1256.7 1663.4L1266.1 1656.4L1350.7 1656.4L1360.1 1656.1L1407.1 1656.1L1416.5 1651.4L1454.1 1651.4L1463.5 1635.6L1472.9 1632.3L1482.3 1629.1L1576.3 1629.1L1585.7 1623.0L1613.9 1623.0L1623.3 1622.2L1642.1 1622.2L1651.5 1620.6L1660.9 1618.9L1679.7 1618.9L1689.1 1613.2L1698.5 1607.5L1707.9 1607.5L1717.3 1602.0L1726.7 1596.5L1839.6 1596.5L1849.0 1575.9L3701.1 1575.9"/>
<path class="t" stroke="#3b9dc7" d="M269.5 2118.0L504.5 2118.0L513.9 2114.9L589.2 2114.9L598.6 2072.9L608.0 2030.9L636.2 2030.9L645.6 2005.7L655.0 1980.4L664.4 1980.3L673.8 1965.5L683.2 1950.7L692.6 1936.0L824.2 1936.0L833.6 1935.0L908.8 1935.0L918.2 1867.1L927.6 1858.0L1002.8 1858.0L1012.2 1807.4L1021.6 1756.8L1106.2 1756.8L1115.6 1730.4L1125.0 1596.5L1134.4 1596.3L1143.8 1596.0L1153.3 1595.8L1200.3 1595.8L1209.7 1589.8L1219.1 1589.8L1228.5 1560.7L1237.9 1551.6L1303.7 1551.6L1313.1 1527.0L1407.1 1527.0L1416.5 1525.2L1425.9 1523.3L1435.3 1521.5L1444.7 1519.6L1548.1 1519.6L1557.5 1517.1L1566.9 1514.5L1604.5 1514.5L1613.9 1514.3L1623.3 1514.1L1632.7 1513.9L1642.1 1513.8L1651.5 1513.8L1660.9 1509.2L1707.9 1509.2L1717.3 1499.7L1773.8 1499.7L1783.2 1434.3L1896.0 1434.3L1905.4 1423.3L1914.8 1412.2L1924.2 1401.1L1933.6 1390.1L3701.1 1390.1"/>
<path class="t" stroke="#08589b" d="M269.5 2118.0L457.5 2118.0L579.8 2118.0L589.2 2089.9L598.6 2061.8L664.4 2061.8L673.8 2039.1L683.2 2016.4L692.6 1993.7L702.0 1973.2L711.4 1946.0L720.8 1944.1L730.2 1942.2L786.6 1942.2L796.0 1920.3L805.4 1898.4L814.8 1876.4L824.2 1835.7L833.6 1816.8L843.0 1798.0L861.8 1798.0L871.2 1731.9L927.6 1731.9L937.0 1605.0L946.4 1566.1L955.8 1527.3L965.2 1488.4L1021.6 1488.4L1031.0 1484.2L1047.9 1480.0L1049.5 1476.8L1059.0 1476.8L1068.5 1461.0L1077.6 1461.0L1086.9 1425.7L1096.4 1415.1L1115.2 1415.1L1124.7 1374.1L1181.3 1374.1L1190.4 1358.5L1280.0 1358.5L1397.7 1358.5L1407.1 1358.4L1416.5 1358.3L1425.9 1358.2L1435.3 1358.1L1463.5 1358.1L1472.9 1309.8L1501.1 1309.8L1510.5 1305.1L1519.9 1304.2L1529.3 1303.3L1538.7 1302.4L1604.5 1302.4L1613.9 1287.5L1623.3 1272.5L1632.7 1257.6L1642.1 1256.3L1670.3 1256.3L1679.7 1232.4L1689.1 1208.5L1698.5 1203.2L1707.9 1197.9L1717.3 1197.9L1726.7 1194.8L1736.1 1191.8L1745.6 1188.7L1755.0 1185.7L1802.0 1185.7L1811.4 1185.5L1820.8 1185.3L1830.2 1185.1L1839.6 1185.1L1849.0 1182.0L1858.4 1178.9L1924.2 1178.9L1933.6 1177.8L2046.4 1177.8L2055.8 1176.9L2065.2 1176.1L2074.6 1175.2L2084.0 1174.0L2093.4 1149.5L2102.8 1125.0L2178.3 1125.0L2187.4 1117.7L2271.8 1117.7L2281.3 1107.5L2290.4 1086.7L2299.5 1077.3L3588.0 1077.3L3596.5 1067.0L3701.7 1067.0"/>
<path class="t" stroke="#62becc" d="M269.5 2118.0L372.9 2118.0L382.3 2102.8L391.7 2087.6L401.1 2079.5L410.5 2071.3L419.9 2063.2L448.1 2063.2L457.5 2054.9L466.9 2046.5L476.3 2038.1L485.7 2024.7L495.1 2019.6L551.5 2019.6L560.9 2018.9L570.4 2018.1L608.0 2018.1L617.4 2004.6L626.8 1991.1L673.8 1991.1L683.2 1990.8L692.6 1990.4L702.0 1990.1L711.4 1989.7L739.6 1989.7L749.0 1977.6L796.0 1977.6L805.4 1971.6L843.0 1971.6L852.4 1971.3L861.8 1969.8L890.0 1969.8L899.4 1959.9L918.2 1959.9L927.6 1959.2L1040.4 1959.2L1049.8 1959.0L1059.2 1947.1L1068.6 1935.2L1078.0 1916.9L1087.4 1905.1L1096.8 1905.1L1106.2 1904.4L1115.6 1903.7L1143.8 1903.7L1153.3 1901.7L1172.1 1901.7L1181.5 1892.0L1190.9 1873.2L1200.3 1854.4L1209.7 1832.5L1219.1 1814.1L1228.5 1807.9L1237.9 1801.6L1341.3 1801.6L1350.7 1800.4L1360.1 1799.3L1369.5 1798.1L1378.9 1796.9L1472.9 1796.9L1482.3 1796.1L1491.7 1795.3L1510.5 1795.3L1519.9 1795.2L1529.3 1793.4L1538.7 1791.6L1548.1 1789.8L1557.5 1788.2L1585.7 1788.2L1595.1 1774.4L1632.7 1774.4L1642.1 1743.0L1736.1 1743.0L1745.6 1713.2L1943.0 1713.2L1952.4 1711.4L2008.8 1711.4L2018.2 1709.5L2027.6 1707.6L2037.0 1705.6L2159.2 1705.6L2168.6 1701.1L2178.0 1696.5L2187.4 1691.9L3701.1 1691.9"/>
<path class="t" stroke="#08498a" d="M269.5 2118.0L466.9 2118.0L504.5 2118.0L513.9 2109.7L523.3 2109.7L532.7 2102.0L579.8 2102.0L589.2 2083.1L598.6 1933.5L608.0 1933.5L617.4 1837.7L626.8 1741.8L655.0 1741.8L664.4 1732.7L673.8 1723.6L683.2 1714.5L692.6 1705.5L824.2 1705.5L833.6 1624.3L880.6 1624.3L890.0 1623.8L899.4 1623.4L984.0 1623.4L993.4 1616.5L1002.8 1609.6L1012.2 1602.7L1021.6 1595.9L1031.0 1581.2L1040.4 1566.6L1049.8 1552.0L1059.2 1552.0L1068.6 1380.6L1106.2 1380.6L1115.6 1374.3L1153.3 1374.3L1162.7 1205.1L1595.1 1205.1L1604.5 1203.9L1613.9 1196.6L1623.3 1187.5L1632.7 1178.3L1642.1 1172.3L1688.0 1172.3L1706.2 1171.0L1820.3 1171.0L1830.0 1158.9L1835.6 1010.0L1838.8 890.2L3701.7 889.5"/>
<path class="t" stroke="#1f80b8" d="M269.5 2118.0L504.5 2118.0L513.9 2104.9L523.3 2091.7L532.7 2078.6L542.1 2065.5L551.5 2065.5L560.9 2059.9L570.4 2018.8L589.2 2018.8L598.6 1992.4L673.8 1992.4L683.2 1982.7L692.6 1973.0L702.0 1963.4L711.4 1953.7L796.0 1953.7L805.4 1895.1L814.8 1836.4L861.8 1836.4L871.2 1818.4L946.4 1818.4L955.8 1806.1L965.2 1793.8L974.6 1781.5L984.0 1781.5L993.4 1772.7L1002.8 1763.9L1012.2 1755.2L1021.6 1740.9L1031.0 1738.7L1040.4 1736.4L1049.8 1734.1L1059.2 1731.8L1068.6 1731.8L1078.0 1710.5L1096.8 1710.5L1106.2 1706.9L1115.6 1703.3L1125.0 1702.1L1134.4 1701.0L1143.8 1699.9L1153.3 1698.7L1284.9 1698.7L1294.3 1690.9L1331.9 1690.9L1341.3 1611.2L1350.7 1611.2L1360.1 1601.8L1501.1 1601.8L1510.5 1593.9L1519.9 1585.9L1529.3 1577.9L1538.7 1569.9L1595.1 1569.9L1604.5 1546.9L1613.9 1523.8L1689.1 1523.8L1698.5 1511.4L1707.9 1499.0L1745.6 1499.0L1755.0 1484.1L2008.8 1484.1L2018.2 1483.5L2027.6 1482.9L2037.0 1334.8L2055.8 1334.8L2065.2 1333.1L2074.6 1331.3L2084.0 1329.6L2243.8 1329.6L2253.2 1310.2L2262.6 1290.9L2272.0 1271.5L3701.1 1271.5"/>
<path class="t" stroke="#0864a8" d="M269.5 2118.0L438.7 2118.0L448.1 2096.3L457.5 2074.6L466.9 2074.6L476.3 2070.9L485.7 2067.2L504.5 2067.2L513.9 2049.4L523.3 1953.2L532.7 1929.0L542.1 1904.9L626.8 1904.9L636.2 1895.3L645.6 1895.3L655.0 1890.9L664.4 1886.4L673.8 1881.9L683.2 1877.4L711.4 1877.4L720.8 1871.1L730.2 1864.8L739.6 1846.6L749.0 1831.3L918.2 1831.3L927.6 1758.6L937.0 1758.6L946.4 1743.8L955.8 1721.0L965.2 1713.0L993.4 1713.0L1002.8 1706.4L1012.2 1698.7L1021.6 1680.8L1031.0 1669.4L1040.4 1658.1L1049.8 1647.9L1078.0 1647.9L1087.4 1644.7L1096.8 1641.6L1181.5 1641.6L1190.9 1630.1L1200.3 1618.7L1303.7 1618.7L1313.1 1618.2L1322.5 1617.7L1331.9 1617.7L1341.3 1597.2L1369.5 1597.2L1378.9 1578.2L1388.3 1559.2L1397.7 1540.2L1407.1 1521.3L1425.9 1521.3L1435.3 1513.3L1510.5 1513.3L1519.9 1513.3L1529.3 1513.3L1538.7 1513.2L1548.1 1513.2L1651.5 1513.2L1660.9 1468.3L1679.7 1468.3L1689.1 1445.0L1877.2 1445.0L1886.6 1442.2L1896.0 1439.5L1914.8 1439.5L1924.2 1435.9L1933.6 1432.3L1943.0 1428.8L1952.4 1414.4L1961.8 1407.6L1980.6 1407.6L1990.0 1397.3L1999.4 1396.6L2008.8 1395.9L2018.2 1357.1L2027.6 1318.3L2037.0 1311.5L2046.4 1304.6L2065.2 1304.6L2074.6 1188.8L3541.3 1188.8L3550.7 1151.9L3560.1 1127.2L3701.1 1127.2"/>
<path class="t" stroke="#51b5d2" d="M269.5 2118.0L354.1 2118.0L363.5 2112.7L372.9 2107.3L382.3 2102.0L391.7 2088.1L401.1 2079.5L410.5 2070.9L419.9 2070.9L429.3 2062.1L438.7 2053.3L448.1 2044.5L466.9 2044.5L476.3 2043.3L485.7 2042.1L495.1 2036.2L504.5 2031.4L523.3 2031.4L532.7 2031.1L542.1 2030.7L617.4 2030.7L626.8 2026.9L645.6 2026.9L655.0 2011.8L664.4 2008.8L683.2 2008.8L692.6 1995.6L702.0 1982.5L711.4 1972.0L739.6 1972.0L749.0 1962.2L805.4 1962.2L814.8 1951.9L833.6 1951.9L843.0 1949.1L965.2 1949.1L974.6 1941.0L984.0 1932.6L993.4 1932.3L1002.8 1928.2L1012.2 1924.4L1021.6 1922.7L1087.4 1922.7L1096.8 1916.0L1153.3 1916.0L1162.7 1913.4L1172.1 1910.7L1181.5 1908.0L1237.9 1908.0L1247.3 1890.5L1256.7 1890.5L1266.1 1866.9L1275.5 1866.9L1284.9 1821.2L1322.5 1821.2L1331.9 1802.4L1341.3 1752.6L1463.5 1752.6L1472.9 1751.0L1482.3 1749.5L1491.7 1747.9L1548.1 1747.9L1557.5 1738.8L1566.9 1729.1L1576.3 1719.4L1585.7 1703.1L1595.1 1672.3L1604.5 1640.1L1613.9 1637.0L1623.3 1634.0L1632.7 1630.9L1642.1 1630.9L1651.5 1614.6L1830.2 1614.6L1839.6 1598.8L1849.0 1583.1L1914.8 1583.1L1924.2 1568.6L2018.2 1568.6L2027.6 1565.4L2037.0 1562.1L2206.2 1562.1L2215.6 1560.9L2225.0 1559.8L2234.4 1558.6L2290.8 1558.6L2300.2 1548.8L2309.6 1538.9L3701.1 1538.9"/>
<path class="t" stroke="#084688" d="M269.5 2118.0L476.3 2118.0L532.7 2118.0L542.1 2080.0L551.5 2042.1L626.8 2042.1L636.2 1990.6L645.6 1753.9L702.0 1753.9L711.4 1731.5L720.8 1709.1L730.2 1701.2L739.6 1693.3L749.0 1685.4L758.4 1677.5L777.2 1677.5L786.6 1665.8L796.0 1665.8L805.4 1637.7L871.2 1637.7L880.6 1632.2L890.0 1626.6L899.4 1621.1L908.8 1615.6L974.6 1615.6L984.0 1598.1L993.4 1580.6L1190.9 1580.6L1200.3 1574.2L1209.7 1574.2L1219.1 1450.8L1228.5 1430.8L1237.9 1410.8L1247.3 1390.8L1284.9 1390.8L1294.3 1344.5L1303.7 1298.2L1331.9 1298.2L1341.3 1295.6L1350.7 1255.0L1379.2 1255.0L1385.2 1236.9L1394.3 1194.4L1433.8 1194.4L1445.9 1191.4L1555.1 1191.4L1573.3 1145.9L1660.9 1145.9L1670.3 1143.2L1698.5 1143.2L1707.9 1130.3L1717.3 1117.4L1726.7 1104.6L1736.1 1104.6L1745.6 1057.3L1755.0 1010.0L1791.9 1010.0L1810.1 1010.0L1821.0 988.4L1829.5 988.4L1839.2 889.0L1848.9 814.0L1952.1 814.0L1961.8 803.6L2251.0 803.6L2262.0 783.7L3646.0 783.7L3655.0 780.6L3701.7 780.6"/>
<path class="t" stroke="#76c9c6" d="M269.5 2118.0L645.6 2118.0L655.0 2117.5L664.4 2117.0L673.8 2116.5L824.2 2116.5L833.6 2116.1L843.0 2115.8L852.4 2115.5L861.8 2115.2L946.4 2115.2L955.8 2098.3L1012.2 2098.3L1021.6 2090.1L1031.0 2081.9L1228.5 2081.9L1237.9 2080.3L1247.3 2078.7L1256.7 2077.1L1266.1 2075.6L1275.5 2075.6L1284.9 2069.6L1294.3 2069.6L1303.7 2067.3L1313.1 2065.0L1322.5 2062.7L1331.9 2061.8L1341.3 2060.9L1501.1 2060.9L1510.5 2058.9L1519.9 2057.0L1529.3 2056.3L1538.7 2055.6L1566.9 2055.6L1576.3 2053.8L1613.9 2053.8L1623.3 2053.8L1632.7 2053.8L1726.7 2053.8L1736.1 2051.9L1745.6 2050.0L1858.4 2050.0L1867.8 2049.4L1877.2 2047.4L1886.6 2045.4L1896.0 2043.5L1905.4 2041.5L1980.6 2041.5L1990.0 2037.1L1999.4 2032.8L3701.1 2032.8"/>
<path class="t" stroke="#4fb3d3" d="M269.5 2118.0L419.9 2118.0L429.3 2116.6L438.7 2115.1L579.8 2115.1L589.2 2109.1L608.0 2109.1L617.4 2106.8L626.8 2104.6L636.2 2099.2L645.6 2093.7L655.0 2092.4L664.4 2091.1L673.8 2091.1L683.2 2054.9L730.2 2054.9L739.6 2046.6L749.0 2038.4L758.4 2030.1L805.4 2030.1L814.8 2022.6L824.2 2015.2L833.6 1989.2L993.4 1989.2L1002.8 1982.1L1012.2 1975.0L1021.6 1975.0L1031.0 1974.9L1040.4 1974.0L1049.8 1973.1L1078.0 1973.1L1087.4 1969.9L1153.3 1969.9L1162.7 1969.1L1172.1 1934.2L1181.5 1934.2L1190.9 1899.2L1200.3 1899.2L1209.7 1876.5L1228.5 1876.5L1237.9 1860.1L1294.3 1860.1L1303.7 1788.9L1331.9 1788.9L1341.3 1788.8L1350.7 1788.7L1360.1 1785.4L1369.5 1779.6L1378.9 1777.0L1388.3 1777.0L1397.7 1771.5L1407.1 1766.0L1416.5 1760.6L1463.5 1760.6L1472.9 1760.5L1482.3 1760.4L1501.1 1760.4L1510.5 1727.1L1519.9 1717.1L1529.3 1707.1L1538.7 1697.0L1548.1 1676.2L1585.7 1676.2L1595.1 1666.3L1604.5 1651.9L1613.9 1639.2L1623.3 1626.5L1745.6 1626.5L1755.0 1615.6L1764.4 1604.6L1773.8 1592.8L1783.2 1581.0L1792.6 1569.2L1802.0 1567.1L1811.4 1565.7L1820.8 1565.7L1830.2 1563.7L1849.0 1563.7L1858.4 1559.0L1990.0 1559.0L1999.4 1557.3L2008.8 1555.5L2018.2 1552.8L2027.6 1551.0L2206.2 1551.0L2215.6 1543.2L2225.0 1535.3L3701.1 1535.3"/>
<path class="t" stroke="#085da0" d="M269.5 2118.0L354.1 2118.0L382.3 2118.0L391.7 2099.2L401.1 2080.3L410.5 2061.5L532.7 2061.5L542.1 2013.7L551.5 1965.9L560.9 1918.1L608.0 1918.1L617.4 1916.8L626.8 1915.4L645.6 1915.4L655.0 1760.0L666.9 1760.0L674.2 1753.0L683.4 1716.6L692.8 1707.4L730.0 1707.4L739.2 1687.5L748.6 1657.2L757.9 1636.6L767.1 1601.4L776.5 1568.6L880.4 1568.6L889.6 1558.9L899.1 1548.0L908.3 1543.1L918.0 1543.1L927.2 1523.0L1000.0 1523.0L1012.2 1523.0L1021.6 1520.7L1031.0 1518.4L1040.4 1516.1L1049.8 1513.8L1087.4 1513.8L1096.8 1460.6L1153.3 1460.6L1162.7 1444.4L1172.1 1428.3L1200.3 1428.3L1209.7 1415.8L1219.1 1403.2L1247.3 1403.2L1256.7 1400.3L1266.1 1342.6L1275.5 1339.6L1284.9 1339.6L1294.3 1337.9L1303.7 1336.1L1313.1 1330.7L1322.5 1325.2L1331.9 1325.0L1378.9 1325.0L1388.3 1317.3L1397.7 1311.2L1407.1 1305.2L1510.5 1305.2L1519.9 1303.8L1538.7 1303.8L1548.1 1290.6L1557.5 1277.3L1566.9 1277.3L1576.3 1275.2L1585.7 1274.0L1595.1 1272.4L1604.5 1270.7L1689.1 1270.7L1698.5 1266.1L1707.9 1261.4L1820.8 1261.4L1830.2 1252.5L1839.6 1243.5L1849.0 1233.0L1858.4 1222.5L1867.8 1220.9L1877.2 1219.3L1886.6 1219.3L1896.0 1209.5L1905.4 1190.9L1914.8 1182.1L1971.2 1182.1L1980.6 1182.0L1990.0 1181.9L1999.4 1181.7L2008.8 1181.6L2018.2 1181.6L2027.6 1155.2L2168.6 1155.2L2178.0 1109.7L2234.4 1109.7L2243.8 1106.1L2253.2 1102.5L2262.6 1099.0L2272.0 1095.4L2300.2 1095.4L3701.1 1095.4"/>
<path class="t" stroke="#2484ba" d="M269.5 2118.0L354.1 2118.0L363.5 2117.5L419.9 2117.5L429.3 2092.9L438.7 2068.3L589.2 2068.3L598.6 2065.6L608.0 2062.8L636.2 2062.8L645.6 2053.9L655.0 2045.0L739.6 2045.0L749.0 2033.1L758.4 2021.1L767.8 2009.2L777.2 1997.2L824.2 1997.2L833.6 1960.0L843.0 1922.8L974.6 1922.8L984.0 1871.7L993.4 1871.7L1002.8 1869.9L1012.2 1868.0L1021.6 1866.2L1031.0 1864.3L1068.6 1864.3L1078.0 1855.4L1087.4 1846.6L1106.2 1846.6L1115.6 1829.8L1200.3 1829.8L1209.7 1783.6L1219.1 1737.4L1228.5 1687.8L1237.9 1687.8L1247.3 1657.8L1256.7 1657.8L1266.1 1632.4L1275.5 1592.1L1284.9 1548.7L1294.3 1529.9L1303.7 1511.0L1313.1 1508.0L1369.5 1508.0L1378.9 1499.0L1388.3 1490.1L1397.7 1481.2L1745.6 1481.2L1755.0 1477.6L1764.4 1474.0L1783.2 1474.0L1792.6 1464.6L1802.0 1455.3L1811.4 1446.0L1839.6 1446.0L1849.0 1399.6L1905.4 1399.6L1914.8 1355.0L1924.2 1310.3L2196.8 1310.3L2206.2 1302.8L3701.1 1302.8"/>
<path class="t" stroke="#085395" d="M269.5 2118.0L448.1 2118.0L655.0 2118.0L664.4 2094.2L673.8 2070.4L683.2 2070.4L692.6 1991.4L702.0 1991.4L711.4 1961.7L730.2 1961.7L739.6 1902.9L749.0 1814.4L758.4 1701.7L767.8 1613.1L777.2 1583.3L786.6 1569.9L824.2 1569.9L833.6 1569.8L843.0 1569.7L852.4 1569.5L861.8 1569.2L965.2 1569.2L974.6 1567.3L984.0 1549.6L993.4 1533.8L1002.8 1517.9L1087.4 1517.9L1096.8 1485.5L1106.2 1453.1L1219.1 1453.1L1228.5 1330.5L1303.7 1330.5L1313.1 1236.9L1324.6 1236.9L1348.8 1218.7L1379.2 1170.1L1391.3 1161.0L1567.2 1161.0L1582.4 1145.9L1597.5 1145.9L1621.8 1127.7L1633.9 1067.0L1688.5 1067.0L1700.0 1050.0L1895.0 1040.2L1900.0 1040.2L2046.6 1040.2L2056.4 1030.3L3701.7 1029.6"/>
<path class="t" stroke="#2d8fbf" d="M269.5 2118.0L335.3 2118.0L344.7 2116.7L354.1 2115.4L363.5 2114.1L372.9 2112.8L419.9 2112.8L429.3 2112.3L438.7 2111.8L448.1 2111.2L457.5 2110.7L485.7 2110.7L495.1 2039.9L513.9 2039.9L523.3 2032.6L551.5 2032.6L560.9 2023.3L608.0 2023.3L617.4 2023.0L626.8 2022.6L655.0 2022.6L664.4 2019.2L890.0 2019.2L899.4 1968.4L937.0 1968.4L946.4 1966.9L955.8 1965.4L993.4 1965.4L1002.8 1955.6L1012.2 1954.0L1021.6 1954.0L1031.0 1913.3L1049.8 1913.3L1059.2 1910.6L1068.6 1907.9L1087.4 1907.9L1096.8 1885.9L1106.2 1863.8L1115.6 1841.7L1125.0 1825.5L1134.4 1814.6L1209.7 1814.6L1219.1 1786.7L1228.5 1758.8L1341.3 1758.8L1350.7 1648.5L1360.1 1645.8L1369.5 1643.0L1378.9 1643.0L1388.3 1634.7L1397.7 1626.5L1407.1 1618.3L1416.5 1604.4L1425.9 1568.4L1435.3 1568.4L1444.7 1555.5L1454.1 1542.6L1491.7 1542.6L1501.1 1522.3L1764.4 1522.3L1773.8 1522.1L1783.2 1521.9L1792.6 1521.9L1802.0 1521.1L1867.8 1521.1L1877.2 1515.3L1886.6 1509.5L1896.0 1503.6L1905.4 1497.8L1952.4 1497.8L1961.8 1474.7L2046.4 1474.7L2055.8 1460.7L2065.2 1446.7L2074.6 1440.1L2102.8 1440.1L2112.2 1433.5L2121.6 1426.9L2131.0 1416.7L2140.4 1413.2L2149.8 1409.6L3494.2 1409.6L3503.7 1369.5L3513.1 1342.8L3701.1 1342.8"/>
<path class="t" stroke="#3da0c9" d="M269.5 2118.0L382.3 2118.0L391.7 2060.0L401.1 2002.0L513.9 2002.0L523.3 2001.6L532.7 2001.6L542.1 1989.2L551.5 1976.8L560.9 1976.8L570.4 1966.5L579.8 1956.2L598.6 1956.2L608.0 1951.2L626.8 1951.2L636.2 1949.8L645.6 1948.5L655.0 1947.2L664.4 1945.9L683.2 1945.9L692.6 1930.4L702.0 1930.4L711.4 1930.3L720.8 1920.8L730.2 1867.1L739.6 1853.2L749.0 1830.4L758.4 1816.5L767.8 1811.8L777.2 1811.5L786.6 1811.1L824.2 1811.1L833.6 1801.5L843.0 1794.6L852.4 1792.6L861.8 1790.5L946.4 1790.5L955.8 1785.5L965.2 1673.0L974.6 1668.0L984.0 1662.0L993.4 1656.0L1002.8 1649.9L1012.2 1632.5L1021.6 1617.1L1040.4 1617.1L1049.8 1604.4L1275.5 1604.4L1284.9 1594.8L1294.3 1594.8L1303.7 1573.6L1350.7 1573.6L1360.1 1560.4L1463.5 1560.4L1472.9 1559.7L1482.3 1559.1L1491.7 1558.5L1501.1 1547.0L1604.5 1547.0L1613.9 1533.4L1623.3 1519.7L1632.7 1490.0L1642.1 1476.3L1707.9 1476.3L1717.3 1468.8L1726.7 1461.3L1736.1 1453.8L1745.6 1446.3L1792.6 1446.3L1802.0 1445.5L1811.4 1444.8L1820.8 1444.0L1830.2 1443.3L1877.2 1443.3L1886.6 1441.6L1896.0 1439.8L1905.4 1438.1L1914.8 1436.4L2018.2 1436.4L2027.6 1416.8L3701.1 1416.8"/>
<path class="t" stroke="#0b6cae" d="M269.5 2118.0L589.2 2118.0L598.6 2115.6L608.0 2113.2L636.2 2113.2L645.6 2083.8L655.0 2054.4L692.6 2054.4L702.0 2022.5L758.4 2022.5L767.8 2000.5L777.2 1896.1L814.8 1896.1L824.2 1893.7L833.6 1891.3L843.0 1888.9L852.4 1886.5L918.2 1886.5L927.6 1783.5L937.0 1783.5L946.4 1777.1L955.8 1750.7L965.2 1750.7L974.6 1736.5L984.0 1722.3L993.4 1708.0L1002.8 1693.8L1040.4 1693.8L1049.8 1686.6L1059.2 1679.4L1068.6 1679.4L1078.0 1658.3L1087.4 1637.2L1096.8 1616.0L1106.2 1594.9L1228.5 1594.9L1237.9 1587.5L1247.3 1580.1L1294.3 1580.1L1303.7 1486.6L1397.7 1486.6L1407.1 1456.6L1510.5 1456.6L1519.9 1438.2L1529.3 1430.5L1538.7 1421.5L1566.9 1421.5L1576.3 1403.6L1585.7 1385.7L1595.1 1367.9L1670.3 1367.9L1679.7 1354.2L1689.1 1336.6L1698.5 1332.7L1707.9 1275.6L1717.3 1222.4L1792.6 1222.4L1802.0 1190.4L1867.8 1190.4L1877.2 1189.7L1886.6 1188.9L1896.0 1188.2L1905.4 1183.5L1914.8 1178.8L1924.2 1174.0L1933.6 1169.3L3701.1 1169.3"/>
<path class="t" stroke="#0862a5" d="M269.5 2118.0L410.5 2118.0L419.9 2117.7L429.3 2117.4L438.7 2117.1L466.9 2117.1L476.3 2065.1L523.3 2065.1L532.7 2048.7L626.8 2048.7L636.2 1998.4L645.6 1998.4L655.0 1955.6L664.4 1906.8L673.8 1898.9L683.2 1891.0L702.0 1891.0L711.4 1887.8L720.8 1884.6L730.2 1881.4L739.6 1878.1L749.0 1877.9L758.4 1877.8L767.8 1877.7L796.0 1877.7L805.4 1835.5L814.8 1793.3L824.2 1782.8L833.6 1771.3L843.0 1770.4L852.4 1769.4L861.8 1753.7L871.2 1738.9L908.8 1738.9L918.2 1726.4L955.8 1726.4L965.2 1714.6L1002.8 1714.6L1012.2 1707.4L1021.6 1700.2L1031.0 1693.0L1059.2 1693.0L1068.6 1685.1L1078.0 1685.1L1087.4 1684.5L1096.8 1674.5L1106.2 1673.9L1115.6 1673.2L1125.0 1673.2L1134.4 1655.1L1143.8 1627.0L1153.3 1587.1L1162.7 1565.4L1172.1 1533.1L1181.5 1510.7L1190.9 1488.3L1284.9 1488.3L1294.3 1443.0L1303.7 1443.0L1313.1 1419.8L1322.5 1419.8L1331.9 1386.1L1425.9 1386.1L1435.3 1370.7L1444.7 1367.5L1454.1 1364.3L1463.5 1343.9L1472.9 1343.9L1482.3 1333.7L1501.1 1333.7L1510.5 1292.1L1519.9 1250.5L1529.3 1208.9L1651.5 1208.9L1660.9 1173.4L1670.3 1173.4L1679.7 1173.2L1689.1 1173.1L1698.5 1150.2L1773.8 1150.2L1783.2 1150.1L1792.6 1141.7L1802.0 1133.4L1849.0 1133.4L1858.4 1130.8L1952.4 1130.8L1961.8 1128.1L1971.2 1125.5L1980.6 1122.9L1990.0 1120.3L2281.4 1120.3L2290.8 1120.2L2300.2 1120.1L2309.6 1120.0L3701.1 1120.0"/>
<path class="t" stroke="#1d7eb7" d="M269.5 2118.0L466.9 2118.0L476.3 2097.2L485.7 2076.4L495.1 2055.6L513.9 2055.6L523.3 2023.9L532.7 1976.0L617.4 1976.0L626.8 1968.5L636.2 1952.0L664.4 1952.0L673.8 1947.1L683.2 1942.1L692.6 1942.1L702.0 1941.5L720.8 1941.5L730.2 1890.1L739.6 1873.1L749.0 1863.3L758.4 1843.0L767.8 1843.0L777.2 1812.9L786.6 1782.8L814.8 1782.8L824.2 1772.3L852.4 1772.3L861.8 1768.6L871.2 1765.0L880.6 1760.9L890.0 1743.3L899.4 1742.9L993.4 1742.9L1002.8 1732.4L1012.2 1710.7L1021.6 1710.7L1031.0 1673.9L1040.4 1637.1L1059.2 1637.1L1068.6 1582.2L1078.0 1565.5L1190.9 1565.5L1200.3 1545.6L1256.7 1545.6L1266.1 1525.7L1275.5 1505.8L1284.9 1428.8L1303.7 1428.8L1313.1 1388.5L1360.1 1388.5L1369.5 1384.9L1378.9 1381.3L1501.1 1381.3L1510.5 1377.6L1519.9 1373.9L1529.3 1370.2L1538.7 1366.6L1623.3 1366.6L1632.7 1363.6L1642.1 1360.6L1651.5 1357.7L1660.9 1354.7L1961.8 1354.7L1971.2 1338.3L2065.2 1338.3L2074.6 1335.4L2084.0 1321.1L2093.4 1280.7L2102.8 1273.7L2112.2 1266.8L2121.6 1259.8L2131.0 1252.8L2187.4 1252.8L2196.8 1238.1L3701.1 1238.1"/>
<path class="t" stroke="#41a5cb" d="M269.5 2118.0L448.1 2118.0L457.5 2111.7L466.9 2105.5L476.3 2099.2L513.9 2099.2L523.3 2083.7L542.1 2083.7L551.5 2070.9L560.9 2058.0L570.4 2045.2L720.8 2045.2L730.2 2026.5L739.6 1991.2L749.0 1955.9L758.4 1939.3L814.8 1939.3L824.2 1936.1L833.6 1932.9L955.8 1932.9L965.2 1932.9L974.6 1932.9L984.0 1932.9L993.4 1932.9L1002.8 1932.8L1012.2 1932.8L1021.6 1931.6L1031.0 1930.3L1040.4 1912.5L1209.7 1912.5L1219.1 1912.4L1228.5 1912.2L1322.5 1912.2L1331.9 1892.1L1341.3 1892.1L1350.7 1863.7L1360.1 1835.3L1463.5 1835.3L1472.9 1818.0L1482.3 1816.8L1491.7 1815.5L1501.1 1806.9L1510.5 1799.5L1529.3 1799.5L1538.7 1727.1L1566.9 1727.1L1576.3 1634.2L1613.9 1634.2L1623.3 1633.9L1689.1 1633.9L1698.5 1620.2L1707.9 1606.6L1717.3 1606.6L1726.7 1591.4L1736.1 1576.2L1755.0 1576.2L1764.4 1555.3L1773.8 1534.4L1820.8 1534.4L1830.2 1528.1L1839.6 1521.8L1849.0 1515.5L1858.4 1509.2L3560.1 1509.2L3569.5 1484.5L3578.9 1468.1L3701.1 1468.1"/>
<path class="t" stroke="#085598" d="M269.5 2118.0L354.1 2118.0L485.7 2118.0L495.1 1991.7L598.6 1991.7L608.0 1955.7L617.4 1919.6L692.6 1919.6L702.0 1905.1L730.2 1905.1L739.6 1713.6L749.0 1522.0L805.4 1522.0L814.8 1514.2L824.2 1506.5L833.6 1494.3L843.0 1482.1L984.0 1482.1L997.3 1480.0L1002.4 1453.4L1011.9 1453.4L1021.6 1433.7L1030.7 1415.5L1040.2 1399.0L1049.5 1388.2L1059.0 1377.1L1068.5 1377.1L1077.6 1364.0L1086.9 1352.9L1096.4 1352.9L1105.9 1329.2L1143.9 1329.2L1153.0 1319.1L1172.2 1319.1L1181.3 1304.7L1218.7 1304.7L1228.4 1291.2L1237.5 1279.7L1280.0 1279.7L1303.7 1279.7L1313.1 1279.7L1322.5 1214.3L1331.9 1214.2L1341.3 1214.2L1350.7 1214.2L1360.1 1214.1L1369.5 1214.1L1388.3 1214.1L1397.7 1178.6L1407.1 1178.6L1416.5 1178.2L1425.9 1177.7L1435.3 1177.7L1444.7 1173.8L1454.1 1170.0L1463.5 1166.1L1501.1 1166.1L1510.5 1156.0L1519.9 1138.1L1529.3 1133.7L1694.6 1133.7L1706.7 1127.7L1737.0 1103.4L1749.2 1094.3L1895.0 1092.5L1900.0 1086.4L2017.5 1086.4L2027.3 1071.8L2102.6 1071.1L2112.1 1061.3L2206.7 1061.3L2215.8 1051.1L2234.0 1040.9L3701.7 1040.2"/>
<path class="t" stroke="#54b6d1" d="M269.5 2118.0L476.3 2118.0L485.7 2113.8L495.1 2109.6L504.5 2105.4L551.5 2105.4L560.9 2104.1L570.4 2062.2L579.8 2060.4L589.2 2058.7L598.6 2056.9L608.0 2055.2L617.4 2055.2L626.8 2053.9L673.8 2053.9L683.2 2051.7L692.6 2049.4L702.0 2047.2L720.8 2047.2L730.2 2032.1L739.6 2017.0L777.2 2017.0L786.6 1951.7L805.4 1951.7L814.8 1933.7L824.2 1915.8L833.6 1897.8L843.0 1897.8L852.4 1894.7L861.8 1891.5L871.2 1888.3L880.6 1885.7L890.0 1842.9L918.2 1842.9L927.6 1834.5L937.0 1822.7L946.4 1819.5L955.8 1816.2L965.2 1812.9L1031.0 1812.9L1040.4 1800.1L1049.8 1787.3L1059.2 1785.6L1068.6 1783.9L1078.0 1782.1L1087.4 1716.5L1153.3 1716.5L1162.7 1699.3L1209.7 1699.3L1219.1 1673.5L1228.5 1646.4L1237.9 1645.2L1247.3 1643.9L1266.1 1643.9L1275.5 1627.6L1284.9 1611.3L1303.7 1611.3L1313.1 1586.9L1397.7 1586.9L1407.1 1584.4L1416.5 1581.9L1425.9 1579.4L1435.3 1576.9L1651.5 1576.9L1660.9 1576.1L1670.3 1575.3L1679.7 1574.2L1689.1 1573.1L1698.5 1572.0L1886.6 1572.0L1896.0 1565.9L1905.4 1559.7L1924.2 1559.7L1933.6 1558.9L1943.0 1558.2L1952.4 1557.4L3701.1 1557.4"/>
<path class="t" stroke="#389bc6" d="M269.5 2118.0L579.8 2118.0L589.2 2096.8L673.8 2096.8L683.2 2092.1L711.4 2092.1L720.8 2020.7L730.2 1949.3L739.6 1949.3L749.0 1938.2L758.4 1864.7L767.8 1802.3L937.0 1802.3L946.4 1795.3L1040.4 1795.3L1049.8 1784.0L1059.2 1772.7L1087.4 1772.7L1096.8 1727.1L1125.0 1727.1L1134.4 1714.0L1266.1 1714.0L1275.5 1688.5L1284.9 1663.1L1294.3 1661.1L1331.9 1661.1L1341.3 1657.9L1369.5 1657.9L1378.9 1630.1L1388.3 1602.2L1397.7 1581.0L1407.1 1559.8L1416.5 1538.3L1425.9 1516.8L1501.1 1516.8L1510.5 1513.8L1519.9 1501.0L1529.3 1488.2L1538.7 1485.1L1595.1 1485.1L1604.5 1484.2L1613.9 1483.3L1717.3 1483.3L1726.7 1479.6L2093.4 1479.6L2102.8 1470.3L2112.2 1426.0L2121.6 1391.2L2168.6 1391.2L2178.0 1386.0L2187.4 1380.8L3701.1 1380.8"/>
<path class="t" stroke="#0e6eaf" d="M269.5 2118.0L570.4 2118.0L579.8 2053.3L767.8 2053.3L777.2 2041.7L786.6 2030.1L796.0 2028.7L805.4 2000.6L843.0 2000.6L852.4 1997.8L871.2 1997.8L880.6 1981.7L890.0 1981.7L899.4 1980.0L908.8 1977.4L918.2 1960.3L927.6 1939.6L937.0 1924.2L946.4 1909.8L955.8 1905.8L965.2 1901.8L1031.0 1901.8L1040.4 1897.6L1049.8 1893.3L1059.2 1889.1L1068.6 1873.4L1078.0 1873.4L1087.4 1857.4L1096.8 1841.4L1106.2 1825.4L1115.6 1809.4L1256.7 1809.4L1266.1 1809.1L1275.5 1808.7L1284.9 1755.6L1294.3 1755.2L1303.7 1755.2L1313.1 1752.1L1322.5 1748.9L1331.9 1745.8L1360.1 1745.8L1369.5 1744.5L1378.9 1720.3L1388.3 1682.3L1397.7 1644.2L1407.1 1621.3L1463.5 1621.3L1472.9 1584.8L1576.3 1584.8L1585.7 1574.7L1595.1 1564.7L1642.1 1564.7L1651.5 1560.3L1660.9 1556.0L1670.3 1551.7L1679.7 1547.3L1736.1 1547.3L1745.6 1535.7L1755.0 1524.2L1764.4 1512.6L1773.8 1501.0L2037.0 1501.0L2046.4 1499.1L2055.8 1497.2L2065.2 1492.1L2074.6 1486.9L2084.0 1486.9L2093.4 1440.3L2102.8 1363.1L2112.2 1299.5L2121.6 1266.5L2149.8 1266.5L2159.2 1265.8L2168.6 1265.2L2196.8 1265.2L2206.2 1261.6L2215.6 1257.9L2225.0 1254.3L2234.4 1250.7L2281.4 1250.7L2290.8 1243.7L2300.2 1236.6L2309.6 1229.6L2319.0 1222.5L2347.3 1222.5L2356.7 1206.2L2366.1 1189.8L2422.5 1189.8L2431.9 1189.3L2441.3 1188.8L3475.4 1188.8L3484.8 1181.6L3701.1 1181.6"/>
<path class="t" stroke="#4cb1d2" d="M269.5 2118.0L391.7 2118.0L401.1 2118.0L410.5 2118.0L476.3 2118.0L485.7 2111.4L495.1 2107.4L504.5 2103.3L513.9 2098.5L523.3 2082.7L617.4 2082.7L626.8 2076.6L749.0 2076.6L758.4 2076.2L767.8 2075.8L777.2 2075.8L786.6 2063.0L796.0 2050.2L852.4 2050.2L861.8 2049.1L871.2 2048.1L880.6 2047.1L899.4 2047.1L908.8 2021.4L937.0 2021.4L946.4 2002.7L1002.8 2002.7L1012.2 1988.9L1021.6 1975.2L1031.0 1968.9L1096.8 1968.9L1106.2 1948.4L1115.6 1947.6L1143.8 1947.6L1153.3 1946.5L1162.7 1945.4L1172.1 1944.2L1190.9 1944.2L1200.3 1937.8L1209.7 1932.3L1219.1 1926.8L1237.9 1926.8L1247.3 1894.9L1294.3 1894.9L1303.7 1892.7L1313.1 1892.7L1322.5 1877.3L1388.3 1877.3L1397.7 1861.2L1407.1 1825.5L1416.5 1824.5L1425.9 1823.5L1435.3 1823.5L1444.7 1818.8L1642.1 1818.8L1651.5 1752.1L1660.9 1719.2L1670.3 1686.4L1679.7 1653.6L1736.1 1653.6L1745.6 1625.1L1764.4 1625.1L1773.8 1617.6L1783.2 1610.0L2093.4 1610.0L2102.8 1607.0L2112.2 1604.0L2121.6 1600.9L2131.0 1597.9L2187.4 1597.9L2196.8 1586.5L2206.2 1575.1L2215.6 1552.1L2225.0 1529.2L3701.1 1529.2"/>
<path class="t" stroke="#084081" d="M269.5 2118.0L448.1 2118.0L513.9 2118.0L523.3 1988.0L532.7 1905.2L589.2 1905.2L598.6 1803.0L636.2 1803.0L645.6 1760.0L683.9 1760.0L692.4 1714.7L720.3 1714.7L730.0 1705.7L739.2 1632.4L748.6 1632.4L757.9 1622.0L767.1 1601.4L776.5 1518.9L785.8 1489.8L795.5 1478.1L804.7 1447.8L800.0 1467.0L804.9 1447.8L870.8 1447.8L880.9 1444.6L947.6 1444.6L957.7 1426.4L975.9 1404.2L985.2 1363.7L994.9 1272.8L1002.2 1227.1L1030.5 1226.3L1040.6 1221.4L1049.5 1183.8L1058.8 1141.4L1068.5 1133.3L1077.8 1127.2L1087.1 1091.6L1106.1 1091.6L1115.4 1058.9L1134.0 1058.9L1143.7 1051.6L1275.1 1051.6L1284.4 1041.1L1303.4 1031.0L1341.0 1031.0L1350.7 1025.7L1425.5 1025.7L1434.8 1020.5L1472.4 1020.5L1482.1 1015.2L1491.4 974.0L1500.7 971.5L1510.0 964.3L1519.7 951.3L1529.0 910.9L1538.3 902.0L1548.0 902.0L1557.3 896.3L1576.3 896.3L1585.6 886.6L1594.9 832.9L1613.5 832.9L1622.8 819.1L1641.8 819.1L1651.1 811.0L1660.4 768.2L1670.1 756.0L1679.4 673.2L1688.7 647.4L1791.9 647.4L1801.6 615.4L1811.3 595.5L1829.5 575.4L1933.1 575.4L1942.8 565.2L1971.0 565.2L1980.4 548.7L1989.7 539.0L2140.1 539.0L2149.3 534.1L2159.0 524.4L2243.0 524.4L2252.0 522.9L2261.0 520.5L2350.0 520.5L2359.0 519.0L3701.7 519.0"/>
<path class="t" stroke="#0969ad" d="M269.5 2118.0L448.1 2118.0L457.5 2106.4L466.9 2094.7L476.3 2083.1L485.7 2071.5L495.1 2012.5L504.5 2012.5L513.9 2004.3L523.3 1958.7L532.7 1950.5L542.1 1942.2L598.6 1942.2L608.0 1930.3L617.4 1918.4L626.8 1906.5L636.2 1906.5L645.6 1901.9L655.0 1897.4L664.4 1864.6L673.8 1836.4L861.8 1836.4L871.2 1820.6L880.6 1804.8L1040.4 1804.8L1049.8 1738.4L1059.2 1638.2L1068.6 1604.4L1078.0 1604.4L1087.4 1593.0L1275.5 1593.0L1284.9 1554.7L1322.5 1554.7L1331.9 1523.5L1341.3 1492.4L1369.5 1492.4L1378.9 1480.5L1388.3 1468.6L1397.7 1456.7L1407.1 1444.8L1472.9 1444.8L1482.3 1440.7L1491.7 1436.5L1501.1 1411.1L1510.5 1407.6L1576.3 1407.6L1585.7 1404.1L1595.1 1400.7L1604.5 1397.3L1613.9 1393.8L1642.1 1393.8L1651.5 1390.8L1660.9 1387.8L1670.3 1387.8L1679.7 1381.5L1689.1 1375.3L1717.3 1375.3L1726.7 1349.8L1736.1 1319.1L1745.6 1293.6L1792.6 1293.6L1802.0 1233.4L1980.6 1233.4L1990.0 1203.4L2074.6 1203.4L2084.0 1158.0L3701.1 1158.0"/>
<path class="t" stroke="#0867ab" d="M269.5 2118.0L363.5 2118.0L372.9 2114.4L382.3 2091.6L410.5 2091.6L419.9 2049.8L485.7 2049.8L495.1 2015.7L579.8 2015.7L589.2 1971.2L598.6 1971.2L608.0 1963.6L617.4 1956.1L626.8 1948.5L636.2 1941.0L711.4 1941.0L720.8 1882.9L730.2 1824.8L833.6 1824.8L843.0 1803.4L871.2 1803.4L880.6 1800.2L890.0 1796.1L899.4 1792.1L908.8 1774.1L918.2 1756.2L955.8 1756.2L965.2 1732.3L974.6 1727.2L984.0 1722.1L993.4 1717.1L1059.2 1717.1L1068.6 1714.0L1078.0 1711.0L1087.4 1707.9L1237.9 1707.9L1247.3 1689.2L1313.1 1689.2L1322.5 1685.3L1331.9 1681.4L1341.3 1677.4L1463.5 1677.4L1472.9 1661.9L1482.3 1646.5L1548.1 1646.5L1557.5 1612.8L1585.7 1612.8L1595.1 1596.0L1604.5 1579.3L1613.9 1562.5L1623.3 1516.2L1670.3 1516.2L1679.7 1509.4L1689.1 1502.7L1698.5 1450.9L1707.9 1438.0L1717.3 1425.1L1736.1 1425.1L1745.6 1417.1L1933.6 1417.1L1943.0 1396.0L1952.4 1334.7L1961.8 1273.4L1971.2 1252.2L2018.2 1252.2L2027.6 1243.7L2037.0 1235.1L2046.4 1226.6L2055.8 1189.5L2065.2 1152.5L2093.4 1152.5L2102.8 1144.3L2178.0 1144.3L2187.4 1142.9L2196.8 1141.4L2206.2 1140.0L2215.6 1138.5L3701.1 1138.5"/>
<path class="t" stroke="#1475b2" d="M269.5 2118.0L344.7 2118.0L358.3 2118.0L361.5 2003.7L392.7 2002.8L404.0 1993.0L418.1 1993.0L429.5 1983.0L469.1 1981.6L479.0 1956.2L525.7 1956.2L542.1 1956.2L551.5 1954.8L560.9 1953.5L692.6 1953.5L702.0 1947.7L711.4 1941.9L720.8 1915.2L730.2 1887.3L739.6 1880.4L749.0 1873.5L767.8 1873.5L777.2 1794.8L786.6 1781.0L796.0 1767.3L805.4 1767.3L814.8 1764.1L824.2 1761.0L833.6 1757.9L843.0 1748.9L852.4 1739.9L861.8 1730.9L890.0 1730.9L899.4 1723.4L908.8 1723.4L918.2 1722.8L984.0 1722.8L993.4 1718.0L1002.8 1718.0L1012.2 1714.9L1021.6 1711.8L1031.0 1697.3L1040.4 1682.7L1059.2 1682.7L1068.6 1682.2L1078.0 1681.8L1087.4 1681.3L1096.8 1680.8L1106.2 1680.8L1115.6 1677.3L1125.0 1673.9L1134.4 1670.4L1143.8 1646.7L1209.7 1646.7L1219.1 1612.9L1275.5 1612.9L1284.9 1607.2L1294.3 1601.5L1303.7 1595.8L1341.3 1595.8L1350.7 1585.1L1360.1 1574.4L1369.5 1573.4L1425.9 1573.4L1435.3 1572.3L1501.1 1572.3L1510.5 1572.1L1519.9 1572.0L1566.9 1572.0L1576.3 1572.0L1585.7 1572.0L1595.1 1531.9L1613.9 1531.9L1623.3 1502.0L1632.7 1472.2L1660.9 1472.2L1670.3 1469.6L1679.7 1467.0L1689.1 1464.4L1698.5 1460.7L1707.9 1459.6L1717.3 1458.5L1726.7 1457.3L1736.1 1455.0L1745.6 1452.7L1755.0 1450.4L1764.4 1448.0L1811.4 1448.0L1820.8 1444.1L1830.2 1440.2L1839.6 1417.4L1905.4 1417.4L1914.8 1417.4L1924.2 1417.3L1933.6 1408.4L1943.0 1408.3L1999.4 1408.3L2008.8 1374.0L2159.2 1374.0L2168.6 1274.4L2243.8 1274.4L2253.2 1241.4L2262.6 1208.3L2281.4 1208.3L3701.1 1208.3"/>
<path class="t" stroke="#79cbc5" d="M269.5 2118.0L2074.6 2118.0L2084.0 2106.6L2093.4 2105.7L3701.1 2105.7"/>
<path class="t" stroke="#2182b9" d="M269.5 2118.0L391.7 2118.0L401.1 2114.7L410.5 2111.4L419.9 2061.8L448.1 2061.8L457.5 2037.6L551.5 2037.6L560.9 2029.2L570.4 2020.8L579.8 2012.4L589.2 2004.1L608.0 2004.1L617.4 1981.2L626.8 1943.7L636.2 1896.0L645.6 1881.5L655.0 1866.9L814.8 1866.9L824.2 1799.5L890.0 1799.5L899.4 1749.7L984.0 1749.7L993.4 1748.5L1002.8 1747.3L1012.2 1746.2L1021.6 1745.0L1031.0 1727.8L1078.0 1727.8L1087.4 1643.0L1153.3 1643.0L1162.7 1612.2L1200.3 1612.2L1209.7 1607.8L1219.1 1577.4L1228.5 1547.0L1237.9 1542.6L1256.7 1542.6L1266.1 1537.2L1275.5 1531.7L1284.9 1526.3L1557.5 1526.3L1566.9 1519.8L1576.3 1507.5L1585.7 1501.8L1604.5 1501.8L1613.9 1485.2L1623.3 1471.9L1726.7 1471.9L1736.1 1453.0L1830.2 1453.0L1839.6 1450.0L1849.0 1447.1L1858.4 1444.1L1867.8 1441.1L1877.2 1411.7L1886.6 1382.4L1933.6 1382.4L1943.0 1378.2L2112.2 1378.2L2121.6 1368.8L2422.5 1368.8L2431.9 1362.9L2441.3 1357.0L2450.7 1351.1L3597.7 1351.1L3607.1 1317.2L3616.5 1294.6L3701.1 1294.6"/>
<path class="t" stroke="#5fbdcd" d="M269.5 2118.0L476.3 2118.0L485.7 2107.7L495.1 2097.5L532.7 2097.5L542.1 2087.7L551.5 2082.3L560.9 2077.0L617.4 2077.0L626.8 2057.0L673.8 2057.0L683.2 2043.0L692.6 2043.0L702.0 2040.3L786.6 2040.3L796.0 2035.1L805.4 2011.5L814.8 1970.9L824.2 1962.6L833.6 1962.6L843.0 1954.5L852.4 1946.3L927.6 1946.3L937.0 1939.7L946.4 1937.0L955.8 1934.3L974.6 1934.3L984.0 1899.9L993.4 1894.5L1012.2 1894.5L1021.6 1893.3L1031.0 1892.1L1078.0 1892.1L1087.4 1889.9L1096.8 1887.7L1125.0 1887.7L1134.4 1866.6L1143.8 1845.5L1256.7 1845.5L1266.1 1831.1L1435.3 1831.1L1444.7 1827.6L1529.3 1827.6L1538.7 1826.5L1548.1 1825.4L1557.5 1822.9L1566.9 1820.5L1623.3 1820.5L1632.7 1812.8L1642.1 1805.1L1651.5 1797.2L1660.9 1789.3L1745.6 1789.3L1755.0 1783.3L1764.4 1783.3L1773.8 1782.5L1783.2 1781.7L1792.6 1780.9L1802.0 1780.1L1820.8 1780.1L1830.2 1776.0L1839.6 1771.9L1849.0 1767.7L1858.4 1763.6L1914.8 1763.6L1924.2 1758.2L1933.6 1752.9L1980.6 1752.9L1990.0 1743.2L1999.4 1733.5L2008.8 1733.5L2018.2 1724.8L2027.6 1724.8L2037.0 1688.1L2131.0 1688.1L2140.4 1678.8L2149.8 1669.5L2159.2 1660.2L2168.6 1650.9L3701.1 1650.9"/>
<path class="k" stroke="#08306b" d="M269.5 2118.0L419.9 2118.0L429.3 2110.8L579.8 2110.8L589.2 2097.5L598.6 2076.9L730.2 2076.9L739.6 1994.8L749.0 1922.4L1126.2 1922.2L1133.4 1883.1L1143.2 1880.7L1153.5 1840.1L1182.0 1840.1L1189.8 1782.6L1197.0 1709.8L1201.9 1701.3L1212.8 1691.6L1214.0 1690.9L1267.4 1690.9L1269.8 1685.6L1277.1 1661.3L1286.8 1650.4L1301.4 1644.3L1303.8 1643.8L1323.2 1643.8L1324.4 1637.0L1329.3 1588.5L1333.0 1545.0L1338.0 1485.6L1342.0 1479.1L1390.6 1467.8L1416.5 1455.6L1437.5 1454.5L1450.4 1437.0L1463.4 1429.8L1537.8 1429.8L1558.8 1421.7L1633.2 1421.7L1634.8 1420.9L1647.8 1340.0L1651.6 1315.4L1657.7 1263.2L1679.5 1263.2L1686.8 1196.5L1717.1 1196.0L1718.4 1194.1L1728.1 1145.6L1732.9 1109.2L1736.6 1072.8L1746.3 1072.8L1747.5 1070.4L1754.7 1024.3L1760.0 1005.0L1764.0 989.7L1772.5 880.5L1778.6 819.8L1783.4 793.1L1791.9 764.0L1801.6 742.2L1808.9 715.5L1819.8 714.3L1829.5 704.6L1830.8 698.5L1834.0 655.0L1835.6 615.4L1839.2 580.2L1848.9 580.2L1850.2 579.0L1857.4 552.3L1861.1 547.5L1868.4 543.8L1876.8 503.8L1895.0 503.3L1896.3 501.4L1904.7 443.1L1909.6 397.0L1914.0 360.3L3701.7 360.3"/>
<path class="k" stroke="#6baed6" d="M269.5 2118.0L1136.2 2118.0L1152.9 2097.1L1216.9 2097.1L1222.5 2094.3L1236.4 2056.7L1237.8 2056.2L1292.0 2056.2L1294.8 2049.8L1304.6 2025.6L1470.2 2025.6L1482.7 2020.0L1537.0 2020.0L1548.1 2003.3L1623.3 2003.3L1633.0 2001.4L1695.6 2001.4L1708.1 1983.0L1731.8 1983.0L1745.7 1967.7L1754.1 1966.3L1766.6 1951.0L1801.7 1950.9L1811.6 1931.0L1903.1 1931.0L1915.0 1918.3L2084.0 1918.3L2099.9 1877.7L2149.6 1877.7L2159.5 1860.6L2676.4 1860.6L2686.4 1841.5L3701.7 1841.5"/>
<path class="k" stroke="#2171b5" d="M269.5 2118.0L278.9 2117.8L288.3 2117.3L297.7 2116.6L307.1 2115.8L316.5 2114.9L325.9 2113.8L335.3 2112.5L344.7 2110.8L354.1 2108.8L363.5 2106.7L372.9 2104.1L382.3 2101.0L391.7 2097.4L401.1 2093.4L410.5 2089.3L419.9 2084.4L429.3 2078.9L438.7 2073.9L448.1 2069.7L457.5 2066.0L466.9 2062.5L476.3 2059.1L485.7 2055.7L495.1 2052.1L504.5 2048.2L513.9 2044.0L523.3 2039.7L532.7 2035.2L542.1 2030.5L551.5 2025.6L560.9 2020.5L570.4 2015.1L579.8 2009.6L589.2 2003.8L598.6 1997.9L608.0 1991.7L617.4 1985.5L626.8 1979.1L636.2 1972.7L645.6 1966.1L655.0 1959.5L664.4 1952.9L673.8 1946.3L683.2 1939.7L692.6 1933.2L702.0 1926.7L711.4 1920.1L720.8 1913.6L730.2 1906.9L739.6 1900.3L749.0 1893.6L758.4 1886.9L767.8 1880.1L777.2 1873.2L786.6 1866.3L796.0 1859.2L805.4 1852.2L814.8 1845.0L824.2 1837.7L833.6 1830.3L843.0 1822.7L852.4 1814.9L861.8 1807.1L871.2 1799.1L880.6 1791.2L890.0 1783.2L899.4 1775.4L908.8 1767.6L918.2 1759.7L927.6 1751.9L937.0 1744.1L946.4 1736.2L955.8 1728.4L965.2 1720.6L974.6 1712.8L984.0 1705.0L993.4 1697.3L1002.8 1689.6L1012.2 1681.9L1021.6 1674.3L1031.0 1666.6L1040.4 1658.9L1049.8 1651.2L1059.2 1643.6L1068.6 1636.1L1078.0 1628.7L1087.4 1621.4L1096.8 1614.3L1106.2 1607.4L1115.6 1600.6L1125.0 1594.4L1134.4 1588.9L1143.8 1583.9L1153.3 1579.1L1162.7 1574.5L1172.1 1570.0L1181.5 1565.4L1190.9 1560.6L1200.3 1555.4L1209.7 1549.6L1219.1 1543.5L1228.5 1537.2L1237.9 1531.4L1247.3 1526.2L1256.7 1521.4L1266.1 1517.0L1275.5 1512.8L1284.9 1508.4L1294.3 1503.9L1303.7 1498.9L1313.1 1493.6L1322.5 1488.0L1331.9 1482.2L1341.3 1476.4L1350.7 1470.7L1360.1 1465.1L1369.5 1459.8L1378.9 1454.5L1388.3 1449.3L1397.7 1444.3L1407.1 1439.4L1416.5 1434.5L1425.9 1429.7L1435.3 1424.9L1444.7 1420.4L1454.1 1416.0L1463.5 1411.9L1472.9 1408.2L1482.3 1404.6L1491.7 1400.5L1501.1 1396.2L1510.5 1391.7L1519.9 1387.0L1529.3 1382.2L1538.7 1377.3L1548.1 1372.3L1557.5 1367.2L1566.9 1362.2L1576.3 1357.1L1585.7 1352.0L1595.1 1347.0L1604.5 1341.9L1613.9 1336.6L1623.3 1331.3L1632.7 1326.0L1642.1 1320.6L1651.5 1315.2L1660.9 1309.9L1670.3 1304.6L1679.7 1299.4L1689.1 1294.3L1698.5 1289.4L1707.9 1284.5L1717.3 1279.7L1726.7 1274.9L1736.1 1270.6L1745.6 1266.8L1755.0 1263.3L1764.4 1260.0L1773.8 1256.8L1783.2 1253.8L1792.6 1250.9L1802.0 1248.1L1811.4 1245.4L1820.8 1242.7L1830.2 1240.1L1839.6 1237.6L1849.0 1235.0L1858.4 1232.5L1867.8 1229.9L1877.2 1227.3L1886.6 1224.8L1896.0 1222.4L1905.4 1219.9L1914.8 1217.6L1924.2 1215.3L1933.6 1213.0L1943.0 1210.8L1952.4 1208.8L1961.8 1206.9L1971.2 1205.1L1980.6 1203.2L1990.0 1201.1L1999.4 1198.7L2008.8 1196.2L2018.2 1193.5L2027.6 1190.8L2037.0 1188.0L2046.4 1185.2L2055.8 1182.5L2065.2 1179.9L2074.6 1177.5L2084.0 1175.3L2093.4 1173.4L2102.8 1171.7L2112.2 1170.0L2121.6 1168.3L2131.0 1166.7L2140.4 1165.1L2149.8 1163.6L2159.2 1162.1L2168.6 1160.7L2178.0 1159.4L2187.4 1158.2L2196.8 1157.1L2206.2 1156.1L2215.6 1155.3L2225.0 1154.6L2234.4 1154.0L2243.8 1153.6L2253.2 1153.2L2262.6 1152.8L2272.0 1152.4L2281.4 1152.0L2290.8 1151.7L2300.2 1151.4L2309.6 1151.1L2319.0 1150.8L2328.5 1150.6L2337.9 1150.4L2347.3 1150.2L2356.7 1150.1L2366.1 1149.9L2375.5 1149.8L2384.9 1149.8L2394.3 1149.7L2403.7 1149.7L2413.1 1149.6L2422.5 1149.6L2431.9 1149.5L2441.3 1149.5L2450.7 1149.5L2460.1 1149.4L2469.5 1149.4L2478.9 1149.4L2488.3 1149.3L2497.7 1149.3L2507.1 1149.3L2516.5 1149.3L2525.9 1149.3L2535.3 1149.3L2544.7 1149.3L2554.1 1149.3L2563.5 1149.3L2572.9 1149.3L2582.3 1149.3L2591.7 1149.3L2601.1 1149.3L2610.5 1149.3L2619.9 1149.3L2629.3 1149.3L2638.7 1149.3L2648.1 1149.3L2657.5 1149.3L2666.9 1149.3L2676.3 1149.3L2685.7 1149.3L2695.1 1149.3L2704.5 1149.3L2713.9 1149.3L2723.3 1149.3L2732.7 1149.3L2742.1 1149.3L2751.5 1149.3L2760.9 1149.3L2770.3 1149.3L2779.7 1149.3L2789.1 1149.3L2798.5 1149.3L2807.9 1149.3L2817.3 1149.3L2826.7 1149.3L2836.1 1149.3L2845.5 1149.3L2854.9 1149.3L2864.3 1149.3L2873.7 1149.3L2883.1 1149.3L2892.5 1149.3L2901.9 1149.3L2911.3 1149.3L2920.8 1149.3L2930.2 1149.3L2939.6 1149.3L2949.0 1149.3L2958.4 1149.3L2967.8 1149.3L2977.2 1149.3L2986.6 1149.3L2996.0 1149.3L3005.4 1149.3L3014.8 1149.3L3024.2 1149.3L3033.6 1149.3L3043.0 1149.3L3052.4 1149.3L3061.8 1149.3L3071.2 1149.3L3080.6 1149.3L3090.0 1149.3L3099.4 1149.3L3108.8 1149.3L3118.2 1149.3L3127.6 1149.3L3137.0 1149.3L3146.4 1149.3L3155.8 1149.3L3165.2 1149.3L3174.6 1149.3L3184.0 1149.3L3193.4 1149.3L3202.8 1149.3L3212.2 1149.3L3221.6 1149.3L3231.0 1149.3L3240.4 1149.3L3249.8 1149.3L3259.2 1149.3L3268.6 1149.3L3278.0 1149.3L3287.4 1149.3L3296.8 1149.3L3306.2 1149.3L3315.6 1149.3L3325.0 1149.3L3334.4 1149.3L3343.8 1149.3L3353.2 1149.3L3362.6 1149.3L3372.0 1149.3L3381.4 1149.3L3390.8 1149.2L3400.2 1149.2L3409.6 1149.1L3419.0 1148.9L3428.4 1148.8L3437.8 1148.6L3447.2 1148.4L3456.6 1148.2L3466.0 1148.0L3475.4 1147.7L3484.8 1147.5L3494.2 1147.2L3503.7 1147.0L3513.1 1146.7L3522.5 1146.5L3531.9 1146.2L3541.3 1145.8L3550.7 1145.4L3560.1 1145.0L3569.5 1144.6L3578.9 1144.1L3588.3 1143.7L3597.7 1143.2L3607.1 1142.6L3616.5 1142.1L3625.9 1141.5L3635.3 1140.9L3644.7 1140.2L3654.1 1139.5L3663.5 1138.7L3672.9 1138.0L3682.3 1137.1L3691.7 1136.3L3701.1 1135.4"/>
<path class="k" stroke="#000" d="M269.5 2118.0L475.4 2118.0L485.5 2111.1L493.6 2062.6L502.7 2014.1L506.7 2013.1L597.7 2013.1L607.8 2004.0L618.9 2003.0L625.0 1961.5L628.0 1950.4L649.3 1950.4L657.3 1927.2L664.4 1909.0L668.5 1908.0L748.3 1908.0L763.5 1888.7L776.6 1886.7L783.7 1850.3L786.9 1840.0L797.0 1802.8L805.1 1768.5L813.2 1750.3L821.3 1746.2L829.4 1715.9L837.5 1699.7L849.6 1692.6L888.0 1692.6L904.2 1671.4L916.3 1666.4L956.8 1666.4L964.9 1652.2L983.1 1652.2L993.2 1646.1L1003.3 1646.1L1013.4 1642.1L1031.6 1642.1L1041.7 1590.5L1047.3 1560.0L1049.7 1537.2L1084.9 1536.0L1097.0 1521.5L1177.1 1521.5L1191.7 1491.1L1206.2 1491.1L1228.1 1466.9L1240.2 1466.9L1249.9 1462.0L1264.5 1460.8L1283.9 1451.1L1291.1 1406.2L1303.3 1384.4L1313.0 1383.2L1322.7 1379.5L1332.4 1379.5L1339.7 1352.8L1342.1 1351.6L1378.5 1350.4L1397.9 1342.7L1502.2 1342.7L1521.6 1329.8L1565.3 1329.3L1575.2 1323.9L1631.0 1323.9L1643.1 1315.4L1674.7 1315.4L1688.0 1305.7L1713.5 1305.2L1725.6 1297.9L1766.9 1297.9L1772.9 1252.3L1902.7 1252.3L1914.9 1248.7L1936.7 1248.7L1951.3 1228.1L1987.7 1228.1L2007.1 1213.0L2033.8 1213.0L2045.9 1208.2L2070.1 1208.2L2084.7 1197.7L2100.0 1197.7L2113.4 1192.1L2231.5 1192.1L2243.4 1191.2L3118.5 1191.2"/>
<circle cx="3118.5" cy="1191.2" r="22.4" fill="#000"/>
</g>
<rect x="222.5" y="270.3" width="3488.0" height="1848.0000000000002" fill="none" stroke="#fff" stroke-width="3.3"/>
<path d="M3710.5 2118.0h15.5M3710.5 1713.8h15.5M3710.5 1309.6h15.5M3710.5 905.4h15.5M3710.5 501.1h15.5" stroke="#fff" stroke-width="3.3" fill="none"/>
<text x="879.3" y="94.0" font-size="87.08" textLength="2064.9" lengthAdjust="spacingAndGlyphs">2020-2021 Accumulated Snowfall For Puntilla, AK</text>
<text x="356.2" y="244.9" font-size="51.50" textLength="3219.1" lengthAdjust="spacingAndGlyphs">GHCN-D ID= USC00507783 | LAT= 62.0911 | LON= -152.735 | ELEV= 1857' | Period= 1942-2021 | Season To Date Report= 83%</text>
<text x="295.5" y="329.2" font-size="30.05" textLength="1340.8" lengthAdjust="spacingAndGlyphs">Generated by Jared Rennie (@jjrennie) on: 2021-09-28 08:36 Eastern. Data up to 20210731</text>
<text x="145.6" y="2133.2" font-size="42.92" textLength="45.7" lengthAdjust="spacingAndGlyphs">0&quot;</text>
<text x="119.1" y="2030.5" font-size="42.92" textLength="72.2" lengthAdjust="spacingAndGlyphs">10&quot;</text>
<text x="119.1" y="1927.9" font-size="42.92" textLength="72.2" lengthAdjust="spacingAndGlyphs">20&quot;</text>
<text x="119.1" y="1825.2" font-size="42.92" textLength="72.2" lengthAdjust="spacingAndGlyphs">30&quot;</text>
<text x="119.1" y="1722.5" font-size="42.92" textLength="72.2" lengthAdjust="spacingAndGlyphs">40&quot;</text>
<text x="119.1" y="1619.9" font-size="42.92" textLength="72.2" lengthAdjust="spacingAndGlyphs">50&quot;</text>
<text x="119.1" y="1517.2" font-size="42.92" textLength="72.2" lengthAdjust="spacingAndGlyphs">60&quot;</text>
<text x="119.1" y="1414.5" font-size="42.92" textLength="72.2" lengthAdjust="spacingAndGlyphs">70&quot;</text>
<text x="119.1" y="1311.8" font-size="42.92" textLength="72.2" lengthAdjust="spacingAndGlyphs">80&quot;</text>
<text x="119.1" y="1209.2" font-size="42.92" textLength="72.2" lengthAdjust="spacingAndGlyphs">90&quot;</text>
<text x="92.6" y="1106.5" font-size="42.92" textLength="98.7" lengthAdjust="spacingAndGlyphs">100&quot;</text>
<text x="92.6" y="1003.8" font-size="42.92" textLength="98.7" lengthAdjust="spacingAndGlyphs">110&quot;</text>
<text x="92.6" y="901.2" font-size="42.92" textLength="98.7" lengthAdjust="spacingAndGlyphs">120&quot;</text>
<text x="92.6" y="798.5" font-size="42.92" textLength="98.7" lengthAdjust="spacingAndGlyphs">130&quot;</text>
<text x="92.6" y="695.8" font-size="42.92" textLength="98.7" lengthAdjust="spacingAndGlyphs">140&quot;</text>
<text x="92.6" y="593.2" font-size="42.92" textLength="98.7" lengthAdjust="spacingAndGlyphs">150&quot;</text>
<text x="92.6" y="490.5" font-size="42.92" textLength="98.7" lengthAdjust="spacingAndGlyphs">160&quot;</text>
<text x="92.6" y="387.8" font-size="42.92" textLength="98.7" lengthAdjust="spacingAndGlyphs">170&quot;</text>
<text x="3739.7" y="2133.2" font-size="42.92" textLength="26.5" lengthAdjust="spacingAndGlyphs">0</text>
<text x="3739.7" y="1729.0" font-size="42.92" textLength="106.0" lengthAdjust="spacingAndGlyphs">1000</text>
<text x="3739.7" y="1324.8" font-size="42.92" textLength="106.0" lengthAdjust="spacingAndGlyphs">2000</text>
<text x="3739.7" y="920.6" font-size="42.92" textLength="106.0" lengthAdjust="spacingAndGlyphs">3000</text>
<text x="3739.7" y="516.3" font-size="42.92" textLength="106.0" lengthAdjust="spacingAndGlyphs">4000</text>
<text x="213.6" y="2178.3" font-size="42.92" textLength="111.8" lengthAdjust="spacingAndGlyphs">Oct 1</text>
<text x="500.4" y="2178.3" font-size="42.92" textLength="121.1" lengthAdjust="spacingAndGlyphs">Nov 1</text>
<text x="773.4" y="2178.3" font-size="42.92" textLength="120.4" lengthAdjust="spacingAndGlyphs">Dec 1</text>
<text x="1073.0" y="2178.3" font-size="42.92" textLength="104.0" lengthAdjust="spacingAndGlyphs">Jan 1</text>
<text x="1350.3" y="2178.3" font-size="42.92" textLength="113.5" lengthAdjust="spacingAndGlyphs">Feb 1</text>
<text x="1639.4" y="2178.3" font-size="42.92" textLength="118.4" lengthAdjust="spacingAndGlyphs">Mar 1</text>
<text x="1924.7" y="2178.3" font-size="42.92" textLength="111.8" lengthAdjust="spacingAndGlyphs">Apr 1</text>
<text x="2209.1" y="2178.3" font-size="42.92" textLength="125.9" lengthAdjust="spacingAndGlyphs">May 1</text>
<text x="2511.1" y="2178.3" font-size="42.92" textLength="104.9" lengthAdjust="spacingAndGlyphs">Jun 1</text>
<text x="2800.5" y="2178.3" font-size="42.92" textLength="90.0" lengthAdjust="spacingAndGlyphs">Jul 1</text>
<text x="3076.4" y="2178.3" font-size="42.92" textLength="121.1" lengthAdjust="spacingAndGlyphs">Aug 1</text>
<text x="3359.9" y="2178.3" font-size="42.92" textLength="118.3" lengthAdjust="spacingAndGlyphs">Sep 1</text>
<text x="-317.8" y="1194.8" font-size="51.50" textLength="770.3" lengthAdjust="spacingAndGlyphs" transform="rotate(-90 67.4 1194.8)">Accumulated Snowfall (inches)</text>
<text x="3536.4" y="1194.0" font-size="51.50" textLength="706.2" lengthAdjust="spacingAndGlyphs" transform="rotate(90 3889.5 1194.0)">Accumulated Snowfall (mm)</text>
<rect x="222" y="2217.9" width="3487.5" height="87.3" rx="8" ry="8" fill="#666" stroke="#a3a3a3" stroke-width="4.2"/>
<rect x="231.8" y="2248.8" width="121" height="20.8" fill="#08306b"/><text x="378.9" y="2277.5" font-size="51.50" textLength="645.6" lengthAdjust="spacingAndGlyphs">Max (1984-1985):  171.2&quot;</text>
<rect x="1115.7" y="2248.8" width="121" height="20.8" fill="#6baed6"/><text x="1264.7" y="2277.5" font-size="51.50" textLength="615.0" lengthAdjust="spacingAndGlyphs">Min (1962-1963):   26.9&quot;</text>
<rect x="1968.8" y="2248.8" width="121" height="20.8" fill="#2171b5"/><text x="2119.5" y="2277.5" font-size="51.50" textLength="618.9" lengthAdjust="spacingAndGlyphs">Avg (1991-2020):   96.3&quot;</text>
<rect x="2824.9" y="2248.8" width="121" height="20.8" fill="#000"/><text x="2973.3" y="2277.5" font-size="51.50" textLength="714.1" lengthAdjust="spacingAndGlyphs">Current (2020-2021):   90.2&quot;</text>
</svg>
</body></html>
